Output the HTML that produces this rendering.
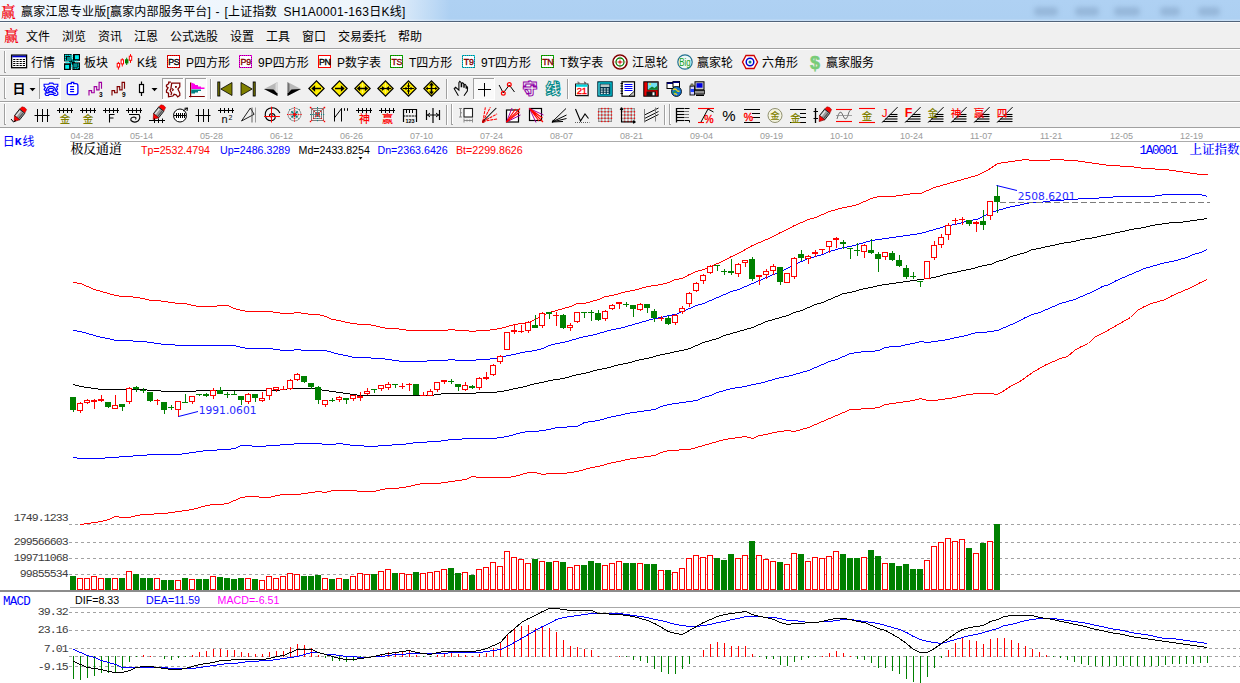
<!DOCTYPE html>
<html lang="zh-CN"><head><meta charset="utf-8"><title>赢家江恩专业版</title>
<style>
html,body{margin:0;padding:0;background:#fff}
#w{position:relative;width:1240px;height:683px;overflow:hidden;background:#fff;font-family:"Liberation Sans","Noto Sans CJK SC",sans-serif}
.t{position:absolute;white-space:nowrap;line-height:1;color:#000}
#title{position:absolute;left:0;top:0;width:1240px;height:21px;background:linear-gradient(#afd1f3,#add0f2 85%,#add0f2 90%,#cfe3f7)}
#tglow{position:absolute;left:0;top:0;width:450px;height:21px;background:linear-gradient(90deg,rgba(255,255,255,.82),rgba(255,255,255,.8) 80%,rgba(255,255,255,.5) 90%,rgba(255,255,255,0))}
.blob{position:absolute;top:7px;height:9px;background:#7f9fc2;opacity:.5;filter:blur(2.5px);border-radius:4px}
#tline{position:absolute;left:0;top:21px;width:1240px;height:1px;background:#51637a}
#menubg{position:absolute;left:0;top:22px;width:1240px;height:106px;background:#f0f0f0;box-shadow:inset 0 1px 0 #fbfbfb}
.sep{position:absolute;left:0;width:1240px;height:1px;background:#a0a0a0;box-shadow:0 1px 0 #fff}
.ui{font-size:12px;height:16px;line-height:16px}
.ying{font-family:"Liberation Serif","Noto Serif CJK SC",serif;font-weight:600;color:#f4000c;font-size:14.5px;line-height:16px}
.date{font-size:9px;color:#9a9a9a;font-family:"Liberation Sans",sans-serif;line-height:11px}
.sim{font-family:"Liberation Serif","Noto Serif CJK SC",serif;font-size:12px;line-height:14px;font-weight:500}
.sim2{font-family:"Liberation Sans","Noto Sans CJK SC",sans-serif;font-size:12px;line-height:14px}
.lm{font-family:"Liberation Mono",monospace;font-size:10px;font-weight:400}
.ar{font-family:"Liberation Sans",sans-serif;font-size:10.67px;line-height:12px}
.ann{font-family:"DejaVu Sans","Liberation Sans",sans-serif;font-size:10.7px;line-height:12px;color:#2a2aff}
.mono{font-family:"Liberation Mono",monospace;font-size:11.5px;letter-spacing:-0.9px;line-height:12px;color:#3c3c3c}
svg{position:absolute;left:0;top:0}
</style></head><body><div id="w">
<div id="title"></div><div id="tglow"></div>
<div class="blob" style="left:1034px;width:24px"></div>
<div class="blob" style="left:1075px;width:24px"></div>
<div class="blob" style="left:1114px;width:26px"></div>
<div class="blob" style="left:1160px;width:20px"></div>
<div class="blob" style="left:1198px;width:22px"></div>
<div id="tline"></div>
<div id="menubg"></div><div class="sep" style="top:48px"></div><div class="sep" style="top:75px"></div><div class="sep" style="top:101px"></div><div class="sep" style="top:127px"></div>
<div class="t ying" style="left:1px;top:3.5px;">赢</div>
<div class="t ui" style="left:21px;top:3.5px;letter-spacing:0.2px">赢家江恩专业版[赢家内部服务平台]</div>
<div class="t ui" style="left:215.5px;top:3.5px;">-</div>
<div class="t ui" style="left:224.5px;top:3.5px;letter-spacing:0.2px">[上证指数</div>
<div class="t ui" style="left:283.5px;top:3.5px;letter-spacing:0.3px">SH1A0001-163日K线]</div>
<div class="t ying" style="left:4px;top:27.5px;">赢</div>
<div class="t ui" style="left:26px;top:28.5px;">文件</div>
<div class="t ui" style="left:62px;top:28.5px;">浏览</div>
<div class="t ui" style="left:98px;top:28.5px;">资讯</div>
<div class="t ui" style="left:134px;top:28.5px;">江恩</div>
<div class="t ui" style="left:170px;top:28.5px;">公式选股</div>
<div class="t ui" style="left:230px;top:28.5px;">设置</div>
<div class="t ui" style="left:266px;top:28.5px;">工具</div>
<div class="t ui" style="left:302px;top:28.5px;">窗口</div>
<div class="t ui" style="left:338px;top:28.5px;">交易委托</div>
<div class="t ui" style="left:398px;top:28.5px;">帮助</div>
<div class="t ui" style="left:31px;top:55px;">行情</div>
<div class="t ui" style="left:84px;top:55px;">板块</div>
<div class="t ui" style="left:137px;top:55px;">K线</div>
<div class="t ui" style="left:186px;top:55px;">P四方形</div>
<div class="t ui" style="left:258px;top:55px;">9P四方形</div>
<div class="t ui" style="left:337px;top:55px;">P数字表</div>
<div class="t ui" style="left:409px;top:55px;">T四方形</div>
<div class="t ui" style="left:481px;top:55px;">9T四方形</div>
<div class="t ui" style="left:560px;top:55px;">T数字表</div>
<div class="t ui" style="left:632px;top:55px;">江恩轮</div>
<div class="t ui" style="left:697px;top:55px;">赢家轮</div>
<div class="t ui" style="left:762px;top:55px;">六角形</div>
<div class="t ui" style="left:826px;top:55px;">赢家服务</div>
<div class="t date" style="left:70.5px;top:131px;">04-28</div>
<div class="t date" style="left:130px;top:131px;">05-14</div>
<div class="t date" style="left:200px;top:131px;">05-28</div>
<div class="t date" style="left:270px;top:131px;">06-12</div>
<div class="t date" style="left:340px;top:131px;">06-26</div>
<div class="t date" style="left:410px;top:131px;">07-10</div>
<div class="t date" style="left:480px;top:131px;">07-24</div>
<div class="t date" style="left:550px;top:131px;">08-07</div>
<div class="t date" style="left:620px;top:131px;">08-21</div>
<div class="t date" style="left:690px;top:131px;">09-04</div>
<div class="t date" style="left:760px;top:131px;">09-19</div>
<div class="t date" style="left:830px;top:131px;">10-10</div>
<div class="t date" style="left:900px;top:131px;">10-24</div>
<div class="t date" style="left:970px;top:131px;">11-07</div>
<div class="t date" style="left:1040px;top:131px;">11-21</div>
<div class="t date" style="left:1110px;top:131px;">12-05</div>
<div class="t date" style="left:1180px;top:131px;">12-19</div>
<div class="t sim2" style="left:2.7px;top:135px;color:#00f">日</div>
<div class="t sim2" style="left:14.8px;top:135px;color:#00f;font-family:'Liberation Mono',monospace;font-size:11.5px;font-weight:700">K</div>
<div class="t sim2" style="left:22.6px;top:135px;color:#00f">线</div>
<div class="t sim" style="left:70.5px;top:142.3px;font-size:13px;letter-spacing:-0.2px">极反通道</div>
<div class="t ar" style="left:141px;top:143.6px;color:#f00">Tp=2532.4794</div>
<div class="t ar" style="left:220px;top:143.6px;color:#00f">Up=2486.3289</div>
<div class="t ar" style="left:298.5px;top:143.6px;">Md=2433.8254</div>
<div class="t ar" style="left:377.5px;top:143.6px;color:#00f">Dn=2363.6426</div>
<div class="t ar" style="left:456px;top:143.6px;color:#f00">Bt=2299.8626</div>
<div class="t sim" style="left:1139.5px;top:142.5px;color:#00f;font-size:12.5px"><span class="lm" style="font-size:12.5px;letter-spacing:-1.25px">1A0001</span></div>
<div class="t sim" style="left:1189.5px;top:142.5px;color:#00f;font-size:12.5px">上证指数</div>
<div class="t ann" style="left:1017.7px;top:191px;">2508.6201</div>
<div class="t ann" style="left:198.7px;top:405px;">1991.0601</div>
<div class="t mono" style="right:1172.3px;top:512px">1749.1233</div>
<div class="t mono" style="right:1172.3px;top:536px">299566603</div>
<div class="t mono" style="right:1172.3px;top:552px">199711068</div>
<div class="t mono" style="right:1172.3px;top:568px">99855534</div>
<div class="t mono" style="right:1172.3px;top:606px">39.32</div>
<div class="t mono" style="right:1172.3px;top:624px">23.16</div>
<div class="t mono" style="right:1172.3px;top:642.5px">7.01</div>
<div class="t mono" style="right:1172.3px;top:660.5px">-9.15</div>
<div class="t sim" style="left:3px;top:593.5px;color:#00f"><span class="lm" style="font-size:12.5px;letter-spacing:-0.75px">MACD</span></div>
<div class="t ar" style="left:75px;top:593.5px;">DIF=8.33</div>
<div class="t ar" style="left:146px;top:593.5px;color:#00f">DEA=11.59</div>
<div class="t ar" style="left:217.5px;top:593.5px;color:#f0f">MACD=-6.51</div>
<svg width="1240" height="683" viewBox="0 0 1240 683">
<line x1="69" y1="524.5" x2="1240" y2="524.5" stroke="#a2a2a2" stroke-dasharray="3 3"/>
<line x1="69" y1="542.5" x2="1240" y2="542.5" stroke="#a2a2a2" stroke-dasharray="3 3"/>
<line x1="69" y1="558.5" x2="1240" y2="558.5" stroke="#a2a2a2" stroke-dasharray="3 3"/>
<line x1="69" y1="574.5" x2="1240" y2="574.5" stroke="#a2a2a2" stroke-dasharray="3 3"/>
<line x1="69" y1="612.5" x2="1240" y2="612.5" stroke="#a2a2a2" stroke-dasharray="3 3"/>
<line x1="69" y1="630.5" x2="1240" y2="630.5" stroke="#a2a2a2" stroke-dasharray="3 3"/>
<line x1="69" y1="648.5" x2="1240" y2="648.5" stroke="#a2a2a2" stroke-dasharray="3 3"/>
<line x1="69" y1="656.5" x2="1240" y2="656.5" stroke="#a2a2a2" stroke-dasharray="3 3"/>
<line x1="69" y1="666.5" x2="1240" y2="666.5" stroke="#a2a2a2" stroke-dasharray="3 3"/>
<rect x="70" y="141" width="1170" height="1" fill="#ababab"/>
<rect x="0" y="590" width="1240" height="2" fill="#8c8c8c"/>
<rect x="70" y="607" width="1170" height="1" fill="#a8a8a8"/>
<g shape-rendering="crispEdges">
<polyline points="73.5,282.5 80.5,283.5 87.5,286.5 94.5,289.5 101.5,291.5 108.5,293.5 115.5,295.5 122.5,296.5 129.5,296.5 136.5,297.5 143.5,298.5 150.5,300.5 157.5,300.5 164.5,301.5 171.5,302.5 178.5,303.5 185.5,303.5 192.5,305.5 199.5,306.5 206.5,306.5 213.5,306.5 220.5,305.5 227.5,305.5 234.5,308.5 241.5,310.5 248.5,311.5 255.5,311.5 262.5,311.5 269.5,311.5 276.5,312.5 283.5,313.5 290.5,313.5 297.5,312.5 304.5,313.5 311.5,314.5 318.5,314.5 325.5,316.5 332.5,319.5 339.5,320.5 346.5,322.5 353.5,323.5 360.5,324.5 367.5,324.5 374.5,325.5 381.5,327.5 388.5,328.5 395.5,328.5 402.5,329.5 409.5,330.5 416.5,330.5 423.5,330.5 430.5,330.5 437.5,330.5 444.5,330.5 451.5,329.5 458.5,330.5 465.5,330.5 472.5,331.5 479.5,330.5 486.5,330.5 493.5,329.5 500.5,328.5 507.5,326.5 514.5,324.5 521.5,323.5 528.5,322.5 535.5,319.5 542.5,315.5 549.5,312.5 556.5,310.5 563.5,308.5 570.5,306.5 577.5,303.5 584.5,303.5 591.5,301.5 598.5,299.5 605.5,296.5 612.5,295.5 619.5,293.5 626.5,291.5 633.5,290.5 640.5,288.5 647.5,286.5 654.5,285.5 661.5,284.5 668.5,282.5 675.5,279.5 682.5,278.5 689.5,274.5 696.5,271.5 703.5,269.5 710.5,266.5 717.5,263.5 724.5,260.5 731.5,256.5 738.5,253.5 745.5,249.5 752.5,245.5 759.5,242.5 766.5,239.5 773.5,236.5 780.5,232.5 787.5,229.5 794.5,225.5 801.5,222.5 808.5,219.5 815.5,217.5 822.5,214.5 829.5,211.5 836.5,209.5 843.5,207.5 850.5,206.5 857.5,204.5 864.5,201.5 871.5,198.5 878.5,196.5 885.5,196.5 892.5,196.5 899.5,195.5 906.5,194.5 913.5,193.5 920.5,193.5 927.5,190.5 934.5,187.5 941.5,185.5 948.5,183.5 955.5,181.5 962.5,179.5 969.5,177.5 976.5,175.5 983.5,172.5 990.5,168.5 997.5,163.5 1004.5,162.5 1011.5,161.5 1018.5,160.5 1025.5,159.5 1032.5,160.5 1039.5,160.5 1046.5,160.5 1053.5,159.5 1060.5,159.5 1067.5,160.5 1074.5,160.5 1081.5,161.5 1088.5,162.5 1095.5,163.5 1102.5,164.5 1109.5,165.5 1116.5,165.5 1123.5,166.5 1130.5,166.5 1137.5,167.5 1144.5,168.5 1151.5,168.5 1158.5,169.5 1165.5,169.5 1172.5,170.5 1179.5,171.5 1186.5,172.5 1193.5,173.5 1200.5,174.5 1207.5,174.5" fill="none" stroke="#ff0000" stroke-width="1"/>
<polyline points="73.5,330.5 80.5,331.5 87.5,333.5 94.5,335.5 101.5,337.5 108.5,338.5 115.5,340.5 122.5,340.5 129.5,340.5 136.5,341.5 143.5,341.5 150.5,342.5 157.5,343.5 164.5,344.5 171.5,344.5 178.5,345.5 185.5,345.5 192.5,345.5 199.5,345.5 206.5,345.5 213.5,345.5 220.5,345.5 227.5,345.5 234.5,345.5 241.5,347.5 248.5,348.5 255.5,348.5 262.5,348.5 269.5,348.5 276.5,349.5 283.5,350.5 290.5,350.5 297.5,349.5 304.5,350.5 311.5,350.5 318.5,350.5 325.5,350.5 332.5,352.5 339.5,354.5 346.5,355.5 353.5,357.5 360.5,357.5 367.5,357.5 374.5,358.5 381.5,358.5 388.5,359.5 395.5,360.5 402.5,361.5 409.5,361.5 416.5,361.5 423.5,361.5 430.5,360.5 437.5,360.5 444.5,360.5 451.5,359.5 458.5,360.5 465.5,360.5 472.5,360.5 479.5,359.5 486.5,359.5 493.5,358.5 500.5,357.5 507.5,355.5 514.5,354.5 521.5,352.5 528.5,351.5 535.5,350.5 542.5,348.5 549.5,345.5 556.5,343.5 563.5,342.5 570.5,340.5 577.5,338.5 584.5,336.5 591.5,335.5 598.5,333.5 605.5,331.5 612.5,329.5 619.5,328.5 626.5,326.5 633.5,324.5 640.5,322.5 647.5,320.5 654.5,318.5 661.5,317.5 668.5,315.5 675.5,314.5 682.5,311.5 689.5,308.5 696.5,305.5 703.5,303.5 710.5,300.5 717.5,297.5 724.5,294.5 731.5,291.5 738.5,289.5 745.5,286.5 752.5,283.5 759.5,280.5 766.5,277.5 773.5,274.5 780.5,271.5 787.5,268.5 794.5,264.5 801.5,261.5 808.5,258.5 815.5,256.5 822.5,254.5 829.5,251.5 836.5,249.5 843.5,247.5 850.5,246.5 857.5,244.5 864.5,242.5 871.5,240.5 878.5,239.5 885.5,238.5 892.5,237.5 899.5,236.5 906.5,235.5 913.5,234.5 920.5,233.5 927.5,231.5 934.5,229.5 941.5,227.5 948.5,225.5 955.5,224.5 962.5,222.5 969.5,220.5 976.5,219.5 983.5,216.5 990.5,212.5 997.5,210.5 1004.5,208.5 1011.5,206.5 1018.5,205.5 1025.5,203.5 1032.5,202.5 1039.5,202.5 1046.5,201.5 1053.5,200.5 1060.5,200.5 1067.5,199.5 1074.5,199.5 1081.5,198.5 1088.5,198.5 1095.5,198.5 1102.5,197.5 1109.5,197.5 1116.5,196.5 1123.5,196.5 1130.5,196.5 1137.5,196.5 1144.5,196.5 1151.5,196.5 1158.5,195.5 1165.5,194.5 1172.5,194.5 1179.5,194.5 1186.5,194.5 1193.5,194.5 1200.5,194.5 1207.5,196.5" fill="none" stroke="#0000ff" stroke-width="1"/>
<polyline points="73.5,384.5 80.5,386.5 87.5,387.5 94.5,388.5 101.5,389.5 108.5,389.5 115.5,389.5 122.5,389.5 129.5,389.5 136.5,389.5 143.5,389.5 150.5,390.5 157.5,390.5 164.5,391.5 171.5,391.5 178.5,391.5 185.5,391.5 192.5,391.5 199.5,390.5 206.5,390.5 213.5,390.5 220.5,390.5 227.5,390.5 234.5,390.5 241.5,390.5 248.5,390.5 255.5,390.5 262.5,390.5 269.5,390.5 276.5,390.5 283.5,389.5 290.5,388.5 297.5,388.5 304.5,388.5 311.5,388.5 318.5,389.5 325.5,390.5 332.5,391.5 339.5,392.5 346.5,393.5 353.5,394.5 360.5,395.5 367.5,395.5 374.5,395.5 381.5,395.5 388.5,395.5 395.5,395.5 402.5,395.5 409.5,395.5 416.5,395.5 423.5,395.5 430.5,395.5 437.5,394.5 444.5,393.5 451.5,393.5 458.5,393.5 465.5,393.5 472.5,393.5 479.5,392.5 486.5,392.5 493.5,392.5 500.5,391.5 507.5,390.5 514.5,388.5 521.5,387.5 528.5,385.5 535.5,383.5 542.5,382.5 549.5,380.5 556.5,379.5 563.5,378.5 570.5,376.5 577.5,374.5 584.5,373.5 591.5,371.5 598.5,369.5 605.5,368.5 612.5,366.5 619.5,364.5 626.5,363.5 633.5,361.5 640.5,359.5 647.5,358.5 654.5,356.5 661.5,354.5 668.5,353.5 675.5,351.5 682.5,350.5 689.5,348.5 696.5,345.5 703.5,342.5 710.5,340.5 717.5,338.5 724.5,335.5 731.5,333.5 738.5,331.5 745.5,329.5 752.5,327.5 759.5,324.5 766.5,321.5 773.5,319.5 780.5,317.5 787.5,315.5 794.5,312.5 801.5,310.5 808.5,307.5 815.5,304.5 822.5,302.5 829.5,299.5 836.5,296.5 843.5,293.5 850.5,292.5 857.5,290.5 864.5,288.5 871.5,287.5 878.5,285.5 885.5,284.5 892.5,283.5 899.5,282.5 906.5,281.5 913.5,280.5 920.5,279.5 927.5,278.5 934.5,277.5 941.5,275.5 948.5,273.5 955.5,272.5 962.5,270.5 969.5,269.5 976.5,267.5 983.5,265.5 990.5,264.5 997.5,261.5 1004.5,259.5 1011.5,256.5 1018.5,254.5 1025.5,252.5 1032.5,249.5 1039.5,248.5 1046.5,246.5 1053.5,245.5 1060.5,243.5 1067.5,242.5 1074.5,241.5 1081.5,239.5 1088.5,238.5 1095.5,237.5 1102.5,235.5 1109.5,234.5 1116.5,232.5 1123.5,231.5 1130.5,229.5 1137.5,228.5 1144.5,227.5 1151.5,225.5 1158.5,224.5 1165.5,223.5 1172.5,222.5 1179.5,222.5 1186.5,221.5 1193.5,220.5 1200.5,219.5 1207.5,218.5" fill="none" stroke="#000000" stroke-width="1"/>
<polyline points="73.5,457.5 80.5,458.5 87.5,458.5 94.5,458.5 101.5,458.5 108.5,457.5 115.5,457.5 122.5,456.5 129.5,456.5 136.5,455.5 143.5,455.5 150.5,454.5 157.5,454.5 164.5,454.5 171.5,454.5 178.5,454.5 185.5,453.5 192.5,452.5 199.5,451.5 206.5,450.5 213.5,450.5 220.5,449.5 227.5,449.5 234.5,448.5 241.5,445.5 248.5,445.5 255.5,446.5 262.5,446.5 269.5,445.5 276.5,445.5 283.5,444.5 290.5,444.5 297.5,443.5 304.5,443.5 311.5,443.5 318.5,443.5 325.5,444.5 332.5,444.5 339.5,443.5 346.5,444.5 353.5,445.5 360.5,445.5 367.5,446.5 374.5,446.5 381.5,445.5 388.5,445.5 395.5,444.5 402.5,444.5 409.5,443.5 416.5,442.5 423.5,442.5 430.5,441.5 437.5,441.5 444.5,440.5 451.5,439.5 458.5,439.5 465.5,438.5 472.5,438.5 479.5,438.5 486.5,438.5 493.5,438.5 500.5,437.5 507.5,436.5 514.5,434.5 521.5,432.5 528.5,431.5 535.5,431.5 542.5,430.5 549.5,429.5 556.5,427.5 563.5,427.5 570.5,426.5 577.5,426.5 584.5,422.5 591.5,421.5 598.5,420.5 605.5,418.5 612.5,416.5 619.5,415.5 626.5,413.5 633.5,412.5 640.5,411.5 647.5,410.5 654.5,409.5 661.5,406.5 668.5,404.5 675.5,403.5 682.5,402.5 689.5,401.5 696.5,400.5 703.5,397.5 710.5,395.5 717.5,392.5 724.5,390.5 731.5,388.5 738.5,387.5 745.5,386.5 752.5,384.5 759.5,383.5 766.5,381.5 773.5,379.5 780.5,377.5 787.5,376.5 794.5,374.5 801.5,372.5 808.5,370.5 815.5,367.5 822.5,364.5 829.5,361.5 836.5,359.5 843.5,356.5 850.5,353.5 857.5,352.5 864.5,351.5 871.5,351.5 878.5,350.5 885.5,347.5 892.5,346.5 899.5,346.5 906.5,344.5 913.5,343.5 920.5,341.5 927.5,342.5 934.5,341.5 941.5,340.5 948.5,339.5 955.5,337.5 962.5,336.5 969.5,334.5 976.5,332.5 983.5,332.5 990.5,331.5 997.5,330.5 1004.5,327.5 1011.5,324.5 1018.5,321.5 1025.5,317.5 1032.5,314.5 1039.5,312.5 1046.5,309.5 1053.5,306.5 1060.5,303.5 1067.5,301.5 1074.5,299.5 1081.5,296.5 1088.5,293.5 1095.5,290.5 1102.5,286.5 1109.5,284.5 1116.5,280.5 1123.5,277.5 1130.5,274.5 1137.5,271.5 1144.5,268.5 1151.5,266.5 1158.5,264.5 1165.5,262.5 1172.5,261.5 1179.5,259.5 1186.5,257.5 1193.5,254.5 1200.5,252.5 1207.5,249.5" fill="none" stroke="#0000ff" stroke-width="1"/>
<polyline points="80.5,524.5 87.5,523.5 94.5,522.5 101.5,521.5 108.5,519.5 115.5,516.5 122.5,517.5 129.5,517.5 136.5,515.5 143.5,514.5 150.5,514.5 157.5,513.5 164.5,513.5 171.5,512.5 178.5,511.5 185.5,510.5 192.5,509.5 199.5,507.5 206.5,505.5 213.5,504.5 220.5,504.5 227.5,503.5 234.5,500.5 241.5,497.5 248.5,496.5 255.5,496.5 262.5,497.5 269.5,497.5 276.5,495.5 283.5,494.5 290.5,494.5 297.5,494.5 304.5,493.5 311.5,492.5 318.5,491.5 325.5,492.5 332.5,490.5 339.5,490.5 346.5,490.5 353.5,490.5 360.5,491.5 367.5,491.5 374.5,491.5 381.5,489.5 388.5,488.5 395.5,488.5 402.5,487.5 409.5,486.5 416.5,484.5 423.5,483.5 430.5,483.5 437.5,483.5 444.5,482.5 451.5,481.5 458.5,480.5 465.5,479.5 472.5,476.5 479.5,477.5 486.5,477.5 493.5,477.5 500.5,477.5 507.5,477.5 514.5,476.5 521.5,474.5 528.5,472.5 535.5,472.5 542.5,474.5 549.5,473.5 556.5,473.5 563.5,473.5 570.5,472.5 577.5,471.5 584.5,469.5 591.5,467.5 598.5,466.5 605.5,464.5 612.5,462.5 619.5,461.5 626.5,459.5 633.5,458.5 640.5,457.5 647.5,456.5 654.5,455.5 661.5,452.5 668.5,450.5 675.5,450.5 682.5,449.5 689.5,449.5 696.5,447.5 703.5,445.5 710.5,443.5 717.5,441.5 724.5,439.5 731.5,438.5 738.5,437.5 745.5,436.5 752.5,438.5 759.5,435.5 766.5,434.5 773.5,432.5 780.5,431.5 787.5,430.5 794.5,431.5 801.5,429.5 808.5,427.5 815.5,424.5 822.5,421.5 829.5,418.5 836.5,415.5 843.5,412.5 850.5,409.5 857.5,409.5 864.5,408.5 871.5,408.5 878.5,407.5 885.5,404.5 892.5,403.5 899.5,402.5 906.5,401.5 913.5,400.5 920.5,398.5 927.5,400.5 934.5,400.5 941.5,399.5 948.5,398.5 955.5,397.5 962.5,395.5 969.5,394.5 976.5,393.5 983.5,393.5 990.5,393.5 997.5,394.5 1004.5,390.5 1011.5,385.5 1018.5,382.5 1025.5,377.5 1032.5,372.5 1039.5,368.5 1046.5,364.5 1053.5,361.5 1060.5,358.5 1067.5,356.5 1074.5,350.5 1081.5,346.5 1088.5,343.5 1095.5,336.5 1102.5,333.5 1109.5,329.5 1116.5,325.5 1123.5,321.5 1130.5,317.5 1137.5,310.5 1144.5,306.5 1151.5,303.5 1158.5,301.5 1165.5,299.5 1172.5,295.5 1179.5,292.5 1186.5,289.5 1193.5,286.5 1200.5,282.5 1207.5,279.5" fill="none" stroke="#ff0000" stroke-width="1"/>
<rect x="73" y="410" width="1" height="2" fill="#008000"/>
<rect x="70" y="397" width="6" height="13" fill="#008000"/>
<rect x="80" y="402" width="1" height="1" fill="#ff0000"/>
<rect x="80" y="411" width="1" height="2" fill="#ff0000"/>
<rect x="77.5" y="403.5" width="5" height="7" fill="#fff" stroke="#ff0000"/>
<rect x="87" y="399" width="1" height="1" fill="#ff0000"/>
<rect x="87" y="403" width="1" height="1" fill="#ff0000"/>
<rect x="84.5" y="400.5" width="5" height="2" fill="#fff" stroke="#ff0000"/>
<rect x="94" y="399" width="1" height="1" fill="#ff0000"/>
<rect x="94" y="402" width="1" height="7" fill="#ff0000"/>
<rect x="91" y="400" width="6" height="2" fill="#ff0000"/>
<rect x="101" y="395" width="1" height="4" fill="#ff0000"/>
<rect x="101" y="401" width="1" height="1" fill="#ff0000"/>
<rect x="98" y="399" width="6" height="2" fill="#ff0000"/>
<rect x="108" y="407" width="1" height="1" fill="#008000"/>
<rect x="105" y="402" width="6" height="5" fill="#008000"/>
<rect x="115" y="395" width="1" height="10" fill="#ff0000"/>
<rect x="112.5" y="405.5" width="5" height="3" fill="#fff" stroke="#ff0000"/>
<rect x="122" y="407" width="1" height="4" fill="#008000"/>
<rect x="119" y="404" width="6" height="3" fill="#008000"/>
<rect x="129" y="387" width="1" height="1" fill="#ff0000"/>
<rect x="129" y="402" width="1" height="2" fill="#ff0000"/>
<rect x="126.5" y="388.5" width="5" height="13" fill="#fff" stroke="#ff0000"/>
<rect x="136" y="386" width="1" height="1" fill="#008000"/>
<rect x="136" y="389" width="1" height="3" fill="#008000"/>
<rect x="133" y="387" width="6" height="2" fill="#008000"/>
<rect x="143" y="388" width="1" height="2" fill="#008000"/>
<rect x="143" y="391" width="1" height="2" fill="#008000"/>
<rect x="140" y="390" width="6" height="1" fill="#008000"/>
<rect x="150" y="401" width="1" height="1" fill="#008000"/>
<rect x="147" y="392" width="6" height="9" fill="#008000"/>
<rect x="157" y="399" width="1" height="1" fill="#ff0000"/>
<rect x="157" y="401" width="1" height="4" fill="#ff0000"/>
<rect x="154" y="400" width="6" height="1" fill="#ff0000"/>
<rect x="164" y="410" width="1" height="4" fill="#008000"/>
<rect x="161" y="402" width="6" height="8" fill="#008000"/>
<rect x="171" y="405" width="1" height="2" fill="#008000"/>
<rect x="171" y="408" width="1" height="2" fill="#008000"/>
<rect x="168" y="407" width="6" height="1" fill="#008000"/>
<rect x="178" y="410" width="1" height="7" fill="#ff0000"/>
<rect x="175.5" y="401.5" width="5" height="8" fill="#fff" stroke="#ff0000"/>
<rect x="185" y="394" width="1" height="8" fill="#008000"/>
<rect x="182" y="402" width="6" height="1" fill="#008000"/>
<rect x="192" y="402" width="1" height="2" fill="#ff0000"/>
<rect x="189.5" y="396.5" width="5" height="5" fill="#fff" stroke="#ff0000"/>
<rect x="199" y="395" width="1" height="1" fill="#008000"/>
<rect x="196" y="394" width="6" height="1" fill="#008000"/>
<rect x="206" y="393" width="1" height="1" fill="#008000"/>
<rect x="206" y="396" width="1" height="1" fill="#008000"/>
<rect x="203" y="394" width="6" height="2" fill="#008000"/>
<rect x="213" y="388" width="1" height="2" fill="#ff0000"/>
<rect x="213" y="396" width="1" height="3" fill="#ff0000"/>
<rect x="210.5" y="390.5" width="5" height="5" fill="#fff" stroke="#ff0000"/>
<rect x="220" y="387" width="1" height="3" fill="#008000"/>
<rect x="217" y="390" width="6" height="4" fill="#008000"/>
<rect x="227" y="392" width="1" height="2" fill="#008000"/>
<rect x="227" y="395" width="1" height="3" fill="#008000"/>
<rect x="224" y="394" width="6" height="1" fill="#008000"/>
<rect x="234" y="391" width="1" height="3" fill="#008000"/>
<rect x="231" y="394" width="6" height="1" fill="#008000"/>
<rect x="241" y="400" width="1" height="5" fill="#008000"/>
<rect x="238" y="396" width="6" height="4" fill="#008000"/>
<rect x="248" y="393" width="1" height="1" fill="#ff0000"/>
<rect x="248" y="402" width="1" height="2" fill="#ff0000"/>
<rect x="245.5" y="394.5" width="5" height="7" fill="#fff" stroke="#ff0000"/>
<rect x="255" y="398" width="1" height="4" fill="#008000"/>
<rect x="252" y="394" width="6" height="4" fill="#008000"/>
<rect x="262" y="392" width="1" height="6" fill="#ff0000"/>
<rect x="262" y="401" width="1" height="1" fill="#ff0000"/>
<rect x="259.5" y="398.5" width="5" height="2" fill="#fff" stroke="#ff0000"/>
<rect x="269" y="396" width="1" height="4" fill="#ff0000"/>
<rect x="266.5" y="388.5" width="5" height="7" fill="#fff" stroke="#ff0000"/>
<rect x="276" y="390" width="1" height="2" fill="#ff0000"/>
<rect x="273.5" y="387.5" width="5" height="2" fill="#fff" stroke="#ff0000"/>
<rect x="283" y="386" width="1" height="3" fill="#ff0000"/>
<rect x="280" y="389" width="6" height="1" fill="#ff0000"/>
<rect x="290" y="379" width="1" height="1" fill="#ff0000"/>
<rect x="290" y="389" width="1" height="1" fill="#ff0000"/>
<rect x="287.5" y="380.5" width="5" height="8" fill="#fff" stroke="#ff0000"/>
<rect x="297" y="373" width="1" height="1" fill="#ff0000"/>
<rect x="297" y="380" width="1" height="1" fill="#ff0000"/>
<rect x="294.5" y="374.5" width="5" height="5" fill="#fff" stroke="#ff0000"/>
<rect x="304" y="382" width="1" height="1" fill="#008000"/>
<rect x="301" y="376" width="6" height="6" fill="#008000"/>
<rect x="311" y="387" width="1" height="2" fill="#008000"/>
<rect x="308" y="383" width="6" height="4" fill="#008000"/>
<rect x="318" y="386" width="1" height="1" fill="#008000"/>
<rect x="318" y="400" width="1" height="4" fill="#008000"/>
<rect x="315" y="387" width="6" height="13" fill="#008000"/>
<rect x="325" y="405" width="1" height="2" fill="#ff0000"/>
<rect x="322.5" y="400.5" width="5" height="4" fill="#fff" stroke="#ff0000"/>
<rect x="332" y="398" width="1" height="2" fill="#008000"/>
<rect x="332" y="401" width="1" height="1" fill="#008000"/>
<rect x="329" y="400" width="6" height="1" fill="#008000"/>
<rect x="339" y="396" width="1" height="1" fill="#ff0000"/>
<rect x="339" y="400" width="1" height="2" fill="#ff0000"/>
<rect x="336.5" y="397.5" width="5" height="2" fill="#fff" stroke="#ff0000"/>
<rect x="346" y="400" width="1" height="4" fill="#008000"/>
<rect x="343" y="398" width="6" height="2" fill="#008000"/>
<rect x="353" y="399" width="1" height="2" fill="#ff0000"/>
<rect x="350.5" y="395.5" width="5" height="3" fill="#fff" stroke="#ff0000"/>
<rect x="360" y="392" width="1" height="4" fill="#ff0000"/>
<rect x="360" y="398" width="1" height="3" fill="#ff0000"/>
<rect x="357" y="396" width="6" height="2" fill="#ff0000"/>
<rect x="367" y="388" width="1" height="3" fill="#ff0000"/>
<rect x="367" y="394" width="1" height="1" fill="#ff0000"/>
<rect x="364.5" y="391.5" width="5" height="2" fill="#fff" stroke="#ff0000"/>
<rect x="374" y="390" width="1" height="3" fill="#008000"/>
<rect x="371" y="389" width="6" height="1" fill="#008000"/>
<rect x="381" y="389" width="1" height="2" fill="#ff0000"/>
<rect x="378.5" y="385.5" width="5" height="3" fill="#fff" stroke="#ff0000"/>
<rect x="388" y="382" width="1" height="2" fill="#ff0000"/>
<rect x="388" y="388" width="1" height="2" fill="#ff0000"/>
<rect x="385.5" y="384.5" width="5" height="3" fill="#fff" stroke="#ff0000"/>
<rect x="395" y="385" width="1" height="3" fill="#008000"/>
<rect x="392" y="384" width="6" height="1" fill="#008000"/>
<rect x="402" y="383" width="1" height="3" fill="#ff0000"/>
<rect x="402" y="387" width="1" height="2" fill="#ff0000"/>
<rect x="399" y="386" width="6" height="1" fill="#ff0000"/>
<rect x="409" y="383" width="1" height="1" fill="#ff0000"/>
<rect x="409" y="385" width="1" height="6" fill="#ff0000"/>
<rect x="406" y="384" width="6" height="1" fill="#ff0000"/>
<rect x="413" y="384" width="6" height="11" fill="#008000"/>
<rect x="423" y="392" width="1" height="3" fill="#ff0000"/>
<rect x="420" y="395" width="6" height="1" fill="#ff0000"/>
<rect x="430" y="389" width="1" height="2" fill="#ff0000"/>
<rect x="427.5" y="391.5" width="5" height="4" fill="#fff" stroke="#ff0000"/>
<rect x="437" y="390" width="1" height="2" fill="#ff0000"/>
<rect x="434.5" y="382.5" width="5" height="7" fill="#fff" stroke="#ff0000"/>
<rect x="444" y="382" width="1" height="2" fill="#ff0000"/>
<rect x="441" y="380" width="6" height="2" fill="#ff0000"/>
<rect x="451" y="379" width="1" height="2" fill="#008000"/>
<rect x="451" y="382" width="1" height="2" fill="#008000"/>
<rect x="448" y="381" width="6" height="1" fill="#008000"/>
<rect x="458" y="387" width="1" height="4" fill="#008000"/>
<rect x="455" y="384" width="6" height="3" fill="#008000"/>
<rect x="465" y="382" width="1" height="3" fill="#ff0000"/>
<rect x="465" y="390" width="1" height="1" fill="#ff0000"/>
<rect x="462.5" y="385.5" width="5" height="4" fill="#fff" stroke="#ff0000"/>
<rect x="472" y="385" width="1" height="1" fill="#008000"/>
<rect x="472" y="388" width="1" height="1" fill="#008000"/>
<rect x="469" y="386" width="6" height="2" fill="#008000"/>
<rect x="479" y="377" width="1" height="1" fill="#ff0000"/>
<rect x="479" y="388" width="1" height="2" fill="#ff0000"/>
<rect x="476.5" y="378.5" width="5" height="9" fill="#fff" stroke="#ff0000"/>
<rect x="486" y="372" width="1" height="5" fill="#ff0000"/>
<rect x="486" y="379" width="1" height="1" fill="#ff0000"/>
<rect x="483" y="377" width="6" height="2" fill="#ff0000"/>
<rect x="493" y="364" width="1" height="1" fill="#ff0000"/>
<rect x="493" y="375" width="1" height="1" fill="#ff0000"/>
<rect x="490.5" y="365.5" width="5" height="9" fill="#fff" stroke="#ff0000"/>
<rect x="500" y="355" width="1" height="1" fill="#ff0000"/>
<rect x="500" y="362" width="1" height="2" fill="#ff0000"/>
<rect x="497.5" y="356.5" width="5" height="5" fill="#fff" stroke="#ff0000"/>
<rect x="504.5" y="332.5" width="5" height="17" fill="#fff" stroke="#ff0000"/>
<rect x="514" y="325" width="1" height="5" fill="#ff0000"/>
<rect x="514" y="332" width="1" height="2" fill="#ff0000"/>
<rect x="511" y="330" width="6" height="2" fill="#ff0000"/>
<rect x="521" y="325" width="1" height="6" fill="#ff0000"/>
<rect x="521" y="332" width="1" height="1" fill="#ff0000"/>
<rect x="518" y="331" width="6" height="1" fill="#ff0000"/>
<rect x="528" y="321" width="1" height="1" fill="#ff0000"/>
<rect x="528" y="331" width="1" height="2" fill="#ff0000"/>
<rect x="525.5" y="322.5" width="5" height="8" fill="#fff" stroke="#ff0000"/>
<rect x="535" y="315" width="1" height="10" fill="#008000"/>
<rect x="532" y="325" width="6" height="3" fill="#008000"/>
<rect x="542" y="312" width="1" height="1" fill="#ff0000"/>
<rect x="542" y="326" width="1" height="2" fill="#ff0000"/>
<rect x="539.5" y="313.5" width="5" height="12" fill="#fff" stroke="#ff0000"/>
<rect x="549" y="314" width="1" height="5" fill="#008000"/>
<rect x="546" y="312" width="6" height="2" fill="#008000"/>
<rect x="556" y="312" width="1" height="3" fill="#ff0000"/>
<rect x="556" y="316" width="1" height="10" fill="#ff0000"/>
<rect x="553" y="315" width="6" height="1" fill="#ff0000"/>
<rect x="563" y="314" width="1" height="1" fill="#008000"/>
<rect x="563" y="328" width="1" height="1" fill="#008000"/>
<rect x="560" y="315" width="6" height="13" fill="#008000"/>
<rect x="570" y="323" width="1" height="2" fill="#ff0000"/>
<rect x="570" y="328" width="1" height="3" fill="#ff0000"/>
<rect x="567.5" y="325.5" width="5" height="2" fill="#fff" stroke="#ff0000"/>
<rect x="577" y="322" width="1" height="1" fill="#ff0000"/>
<rect x="574.5" y="312.5" width="5" height="9" fill="#fff" stroke="#ff0000"/>
<rect x="584" y="313" width="1" height="5" fill="#008000"/>
<rect x="581" y="312" width="6" height="1" fill="#008000"/>
<rect x="591" y="310" width="1" height="2" fill="#008000"/>
<rect x="591" y="313" width="1" height="8" fill="#008000"/>
<rect x="588" y="312" width="6" height="1" fill="#008000"/>
<rect x="598" y="310" width="1" height="3" fill="#008000"/>
<rect x="598" y="320" width="1" height="1" fill="#008000"/>
<rect x="595" y="313" width="6" height="7" fill="#008000"/>
<rect x="605" y="310" width="1" height="1" fill="#ff0000"/>
<rect x="605" y="319" width="1" height="2" fill="#ff0000"/>
<rect x="602.5" y="311.5" width="5" height="7" fill="#fff" stroke="#ff0000"/>
<rect x="612" y="304" width="1" height="1" fill="#ff0000"/>
<rect x="612" y="309" width="1" height="1" fill="#ff0000"/>
<rect x="609.5" y="305.5" width="5" height="3" fill="#fff" stroke="#ff0000"/>
<rect x="619" y="304" width="1" height="5" fill="#ff0000"/>
<rect x="616" y="302" width="6" height="2" fill="#ff0000"/>
<rect x="626" y="302" width="1" height="2" fill="#008000"/>
<rect x="626" y="305" width="1" height="2" fill="#008000"/>
<rect x="623" y="304" width="6" height="1" fill="#008000"/>
<rect x="633" y="309" width="1" height="8" fill="#008000"/>
<rect x="630" y="305" width="6" height="4" fill="#008000"/>
<rect x="640" y="303" width="1" height="1" fill="#ff0000"/>
<rect x="640" y="310" width="1" height="1" fill="#ff0000"/>
<rect x="637.5" y="304.5" width="5" height="5" fill="#fff" stroke="#ff0000"/>
<rect x="647" y="308" width="1" height="5" fill="#008000"/>
<rect x="644" y="304" width="6" height="4" fill="#008000"/>
<rect x="654" y="309" width="1" height="2" fill="#008000"/>
<rect x="654" y="318" width="1" height="4" fill="#008000"/>
<rect x="651" y="311" width="6" height="7" fill="#008000"/>
<rect x="661" y="316" width="1" height="2" fill="#ff0000"/>
<rect x="661" y="319" width="1" height="2" fill="#ff0000"/>
<rect x="658" y="318" width="6" height="1" fill="#ff0000"/>
<rect x="668" y="316" width="1" height="2" fill="#008000"/>
<rect x="668" y="324" width="1" height="1" fill="#008000"/>
<rect x="665" y="318" width="6" height="6" fill="#008000"/>
<rect x="675" y="314" width="1" height="1" fill="#ff0000"/>
<rect x="675" y="323" width="1" height="2" fill="#ff0000"/>
<rect x="672.5" y="315.5" width="5" height="7" fill="#fff" stroke="#ff0000"/>
<rect x="682" y="306" width="1" height="2" fill="#ff0000"/>
<rect x="682" y="312" width="1" height="2" fill="#ff0000"/>
<rect x="679.5" y="308.5" width="5" height="3" fill="#fff" stroke="#ff0000"/>
<rect x="689" y="292" width="1" height="1" fill="#ff0000"/>
<rect x="689" y="304" width="1" height="3" fill="#ff0000"/>
<rect x="686.5" y="293.5" width="5" height="10" fill="#fff" stroke="#ff0000"/>
<rect x="696" y="282" width="1" height="1" fill="#ff0000"/>
<rect x="696" y="291" width="1" height="1" fill="#ff0000"/>
<rect x="693.5" y="283.5" width="5" height="7" fill="#fff" stroke="#ff0000"/>
<rect x="703" y="274" width="1" height="1" fill="#ff0000"/>
<rect x="703" y="281" width="1" height="3" fill="#ff0000"/>
<rect x="700.5" y="275.5" width="5" height="5" fill="#fff" stroke="#ff0000"/>
<rect x="710" y="265" width="1" height="1" fill="#ff0000"/>
<rect x="710" y="273" width="1" height="1" fill="#ff0000"/>
<rect x="707.5" y="266.5" width="5" height="6" fill="#fff" stroke="#ff0000"/>
<rect x="717" y="266" width="1" height="5" fill="#008000"/>
<rect x="714" y="265" width="6" height="1" fill="#008000"/>
<rect x="724" y="269" width="1" height="2" fill="#008000"/>
<rect x="724" y="272" width="1" height="3" fill="#008000"/>
<rect x="721" y="271" width="6" height="1" fill="#008000"/>
<rect x="731" y="259" width="1" height="12" fill="#008000"/>
<rect x="731" y="273" width="1" height="2" fill="#008000"/>
<rect x="728" y="271" width="6" height="2" fill="#008000"/>
<rect x="738" y="263" width="1" height="1" fill="#ff0000"/>
<rect x="738" y="274" width="1" height="3" fill="#ff0000"/>
<rect x="735.5" y="264.5" width="5" height="9" fill="#fff" stroke="#ff0000"/>
<rect x="745" y="263" width="1" height="4" fill="#ff0000"/>
<rect x="742.5" y="260.5" width="5" height="2" fill="#fff" stroke="#ff0000"/>
<rect x="752" y="257" width="1" height="2" fill="#008000"/>
<rect x="752" y="279" width="1" height="2" fill="#008000"/>
<rect x="749" y="259" width="6" height="20" fill="#008000"/>
<rect x="759" y="277" width="1" height="8" fill="#ff0000"/>
<rect x="756" y="275" width="6" height="2" fill="#ff0000"/>
<rect x="766" y="269" width="1" height="2" fill="#ff0000"/>
<rect x="766" y="275" width="1" height="4" fill="#ff0000"/>
<rect x="763.5" y="271.5" width="5" height="3" fill="#fff" stroke="#ff0000"/>
<rect x="773" y="264" width="1" height="2" fill="#ff0000"/>
<rect x="773" y="271" width="1" height="4" fill="#ff0000"/>
<rect x="770.5" y="266.5" width="5" height="4" fill="#fff" stroke="#ff0000"/>
<rect x="780" y="282" width="1" height="3" fill="#008000"/>
<rect x="777" y="267" width="6" height="15" fill="#008000"/>
<rect x="784.5" y="273.5" width="5" height="9" fill="#fff" stroke="#ff0000"/>
<rect x="794" y="257" width="1" height="1" fill="#ff0000"/>
<rect x="794" y="277" width="1" height="2" fill="#ff0000"/>
<rect x="791.5" y="258.5" width="5" height="18" fill="#fff" stroke="#ff0000"/>
<rect x="801" y="250" width="1" height="4" fill="#008000"/>
<rect x="801" y="258" width="1" height="3" fill="#008000"/>
<rect x="798" y="254" width="6" height="4" fill="#008000"/>
<rect x="808" y="255" width="1" height="1" fill="#ff0000"/>
<rect x="808" y="259" width="1" height="5" fill="#ff0000"/>
<rect x="805.5" y="256.5" width="5" height="2" fill="#fff" stroke="#ff0000"/>
<rect x="815" y="250" width="1" height="2" fill="#ff0000"/>
<rect x="815" y="254" width="1" height="3" fill="#ff0000"/>
<rect x="812" y="252" width="6" height="2" fill="#ff0000"/>
<rect x="822" y="250" width="1" height="4" fill="#ff0000"/>
<rect x="819" y="249" width="6" height="1" fill="#ff0000"/>
<rect x="829" y="247" width="1" height="6" fill="#ff0000"/>
<rect x="826.5" y="241.5" width="5" height="5" fill="#fff" stroke="#ff0000"/>
<rect x="836" y="237" width="1" height="1" fill="#ff0000"/>
<rect x="836" y="240" width="1" height="8" fill="#ff0000"/>
<rect x="833" y="238" width="6" height="2" fill="#ff0000"/>
<rect x="843" y="240" width="1" height="2" fill="#008000"/>
<rect x="843" y="244" width="1" height="5" fill="#008000"/>
<rect x="840" y="242" width="6" height="2" fill="#008000"/>
<rect x="850" y="249" width="1" height="10" fill="#008000"/>
<rect x="847" y="248" width="6" height="1" fill="#008000"/>
<rect x="857" y="243" width="1" height="7" fill="#008000"/>
<rect x="857" y="251" width="1" height="5" fill="#008000"/>
<rect x="854" y="250" width="6" height="1" fill="#008000"/>
<rect x="864" y="244" width="1" height="1" fill="#ff0000"/>
<rect x="864" y="252" width="1" height="6" fill="#ff0000"/>
<rect x="861.5" y="245.5" width="5" height="6" fill="#fff" stroke="#ff0000"/>
<rect x="871" y="239" width="1" height="11" fill="#008000"/>
<rect x="871" y="253" width="1" height="1" fill="#008000"/>
<rect x="868" y="250" width="6" height="3" fill="#008000"/>
<rect x="878" y="252" width="1" height="2" fill="#008000"/>
<rect x="878" y="259" width="1" height="13" fill="#008000"/>
<rect x="875" y="254" width="6" height="5" fill="#008000"/>
<rect x="885" y="257" width="1" height="3" fill="#ff0000"/>
<rect x="882.5" y="252.5" width="5" height="4" fill="#fff" stroke="#ff0000"/>
<rect x="892" y="251" width="1" height="2" fill="#008000"/>
<rect x="892" y="260" width="1" height="1" fill="#008000"/>
<rect x="889" y="253" width="6" height="7" fill="#008000"/>
<rect x="899" y="255" width="1" height="5" fill="#008000"/>
<rect x="899" y="266" width="1" height="1" fill="#008000"/>
<rect x="896" y="260" width="6" height="6" fill="#008000"/>
<rect x="906" y="265" width="1" height="3" fill="#008000"/>
<rect x="906" y="277" width="1" height="2" fill="#008000"/>
<rect x="903" y="268" width="6" height="9" fill="#008000"/>
<rect x="913" y="272" width="1" height="4" fill="#008000"/>
<rect x="913" y="277" width="1" height="2" fill="#008000"/>
<rect x="910" y="276" width="6" height="1" fill="#008000"/>
<rect x="920" y="282" width="1" height="5" fill="#008000"/>
<rect x="917" y="281" width="6" height="1" fill="#008000"/>
<rect x="924.5" y="261.5" width="5" height="17" fill="#fff" stroke="#ff0000"/>
<rect x="934" y="241" width="1" height="4" fill="#ff0000"/>
<rect x="934" y="258" width="1" height="2" fill="#ff0000"/>
<rect x="931.5" y="245.5" width="5" height="12" fill="#fff" stroke="#ff0000"/>
<rect x="941" y="234" width="1" height="3" fill="#ff0000"/>
<rect x="941" y="245" width="1" height="3" fill="#ff0000"/>
<rect x="938.5" y="237.5" width="5" height="7" fill="#fff" stroke="#ff0000"/>
<rect x="948" y="223" width="1" height="2" fill="#ff0000"/>
<rect x="948" y="235" width="1" height="5" fill="#ff0000"/>
<rect x="945.5" y="225.5" width="5" height="9" fill="#fff" stroke="#ff0000"/>
<rect x="955" y="218" width="1" height="2" fill="#ff0000"/>
<rect x="955" y="221" width="1" height="4" fill="#ff0000"/>
<rect x="952" y="220" width="6" height="1" fill="#ff0000"/>
<rect x="962" y="217" width="1" height="2" fill="#ff0000"/>
<rect x="962" y="220" width="1" height="5" fill="#ff0000"/>
<rect x="959" y="219" width="6" height="1" fill="#ff0000"/>
<rect x="969" y="224" width="1" height="2" fill="#008000"/>
<rect x="966" y="220" width="6" height="4" fill="#008000"/>
<rect x="976" y="221" width="1" height="1" fill="#ff0000"/>
<rect x="976" y="224" width="1" height="8" fill="#ff0000"/>
<rect x="973" y="222" width="6" height="2" fill="#ff0000"/>
<rect x="983" y="210" width="1" height="11" fill="#008000"/>
<rect x="983" y="225" width="1" height="5" fill="#008000"/>
<rect x="980" y="221" width="6" height="4" fill="#008000"/>
<rect x="990" y="216" width="1" height="4" fill="#ff0000"/>
<rect x="987.5" y="201.5" width="5" height="14" fill="#fff" stroke="#ff0000"/>
<rect x="997" y="185" width="1" height="11" fill="#008000"/>
<rect x="997" y="202" width="1" height="11" fill="#008000"/>
<rect x="994" y="196" width="6" height="6" fill="#008000"/>
<rect x="70" y="576" width="6" height="14" fill="#008000"/>
<rect x="77.5" y="578.5" width="5" height="11" fill="#fff" stroke="#ff0000"/>
<rect x="84.5" y="578.5" width="5" height="11" fill="#fff" stroke="#ff0000"/>
<rect x="91.5" y="576.5" width="5" height="13" fill="#fff" stroke="#ff0000"/>
<rect x="98.5" y="578.5" width="5" height="11" fill="#fff" stroke="#ff0000"/>
<rect x="105" y="578" width="6" height="12" fill="#008000"/>
<rect x="112.5" y="578.5" width="5" height="11" fill="#fff" stroke="#ff0000"/>
<rect x="119" y="578" width="6" height="12" fill="#008000"/>
<rect x="126.5" y="571.5" width="5" height="18" fill="#fff" stroke="#ff0000"/>
<rect x="133" y="574" width="6" height="16" fill="#008000"/>
<rect x="140" y="578" width="6" height="12" fill="#008000"/>
<rect x="147" y="578" width="6" height="12" fill="#008000"/>
<rect x="154.5" y="578.5" width="5" height="11" fill="#fff" stroke="#ff0000"/>
<rect x="161" y="580" width="6" height="10" fill="#008000"/>
<rect x="168" y="580" width="6" height="10" fill="#008000"/>
<rect x="175.5" y="580.5" width="5" height="9" fill="#fff" stroke="#ff0000"/>
<rect x="182" y="578" width="6" height="12" fill="#008000"/>
<rect x="189.5" y="579.5" width="5" height="10" fill="#fff" stroke="#ff0000"/>
<rect x="196" y="579" width="6" height="11" fill="#008000"/>
<rect x="203" y="579" width="6" height="11" fill="#008000"/>
<rect x="210.5" y="576.5" width="5" height="13" fill="#fff" stroke="#ff0000"/>
<rect x="217" y="577" width="6" height="13" fill="#008000"/>
<rect x="224" y="578" width="6" height="12" fill="#008000"/>
<rect x="231" y="579" width="6" height="11" fill="#008000"/>
<rect x="238" y="578" width="6" height="12" fill="#008000"/>
<rect x="245.5" y="578.5" width="5" height="11" fill="#fff" stroke="#ff0000"/>
<rect x="252" y="579" width="6" height="11" fill="#008000"/>
<rect x="259.5" y="580.5" width="5" height="9" fill="#fff" stroke="#ff0000"/>
<rect x="266.5" y="576.5" width="5" height="13" fill="#fff" stroke="#ff0000"/>
<rect x="273.5" y="578.5" width="5" height="11" fill="#fff" stroke="#ff0000"/>
<rect x="280.5" y="576.5" width="5" height="13" fill="#fff" stroke="#ff0000"/>
<rect x="287.5" y="573.5" width="5" height="16" fill="#fff" stroke="#ff0000"/>
<rect x="294.5" y="574.5" width="5" height="15" fill="#fff" stroke="#ff0000"/>
<rect x="301" y="576" width="6" height="14" fill="#008000"/>
<rect x="308" y="576" width="6" height="14" fill="#008000"/>
<rect x="315" y="575" width="6" height="15" fill="#008000"/>
<rect x="322.5" y="578.5" width="5" height="11" fill="#fff" stroke="#ff0000"/>
<rect x="329" y="579" width="6" height="11" fill="#008000"/>
<rect x="336.5" y="578.5" width="5" height="11" fill="#fff" stroke="#ff0000"/>
<rect x="343" y="579" width="6" height="11" fill="#008000"/>
<rect x="350.5" y="576.5" width="5" height="13" fill="#fff" stroke="#ff0000"/>
<rect x="357.5" y="573.5" width="5" height="16" fill="#fff" stroke="#ff0000"/>
<rect x="364.5" y="574.5" width="5" height="15" fill="#fff" stroke="#ff0000"/>
<rect x="371" y="574" width="6" height="16" fill="#008000"/>
<rect x="378.5" y="571.5" width="5" height="18" fill="#fff" stroke="#ff0000"/>
<rect x="385.5" y="569.5" width="5" height="20" fill="#fff" stroke="#ff0000"/>
<rect x="392" y="573" width="6" height="17" fill="#008000"/>
<rect x="399.5" y="573.5" width="5" height="16" fill="#fff" stroke="#ff0000"/>
<rect x="406.5" y="574.5" width="5" height="15" fill="#fff" stroke="#ff0000"/>
<rect x="413" y="572" width="6" height="18" fill="#008000"/>
<rect x="420.5" y="573.5" width="5" height="16" fill="#fff" stroke="#ff0000"/>
<rect x="427.5" y="572.5" width="5" height="17" fill="#fff" stroke="#ff0000"/>
<rect x="434.5" y="571.5" width="5" height="18" fill="#fff" stroke="#ff0000"/>
<rect x="441.5" y="569.5" width="5" height="20" fill="#fff" stroke="#ff0000"/>
<rect x="448" y="568" width="6" height="22" fill="#008000"/>
<rect x="455" y="573" width="6" height="17" fill="#008000"/>
<rect x="462.5" y="572.5" width="5" height="17" fill="#fff" stroke="#ff0000"/>
<rect x="469" y="575" width="6" height="15" fill="#008000"/>
<rect x="476.5" y="569.5" width="5" height="20" fill="#fff" stroke="#ff0000"/>
<rect x="483.5" y="567.5" width="5" height="22" fill="#fff" stroke="#ff0000"/>
<rect x="490.5" y="562.5" width="5" height="27" fill="#fff" stroke="#ff0000"/>
<rect x="497.5" y="566.5" width="5" height="23" fill="#fff" stroke="#ff0000"/>
<rect x="504.5" y="551.5" width="5" height="38" fill="#fff" stroke="#ff0000"/>
<rect x="511.5" y="557.5" width="5" height="32" fill="#fff" stroke="#ff0000"/>
<rect x="518.5" y="559.5" width="5" height="30" fill="#fff" stroke="#ff0000"/>
<rect x="525.5" y="563.5" width="5" height="26" fill="#fff" stroke="#ff0000"/>
<rect x="532" y="559" width="6" height="31" fill="#008000"/>
<rect x="539.5" y="561.5" width="5" height="28" fill="#fff" stroke="#ff0000"/>
<rect x="546" y="562" width="6" height="28" fill="#008000"/>
<rect x="553.5" y="561.5" width="5" height="28" fill="#fff" stroke="#ff0000"/>
<rect x="560" y="562" width="6" height="28" fill="#008000"/>
<rect x="567.5" y="567.5" width="5" height="22" fill="#fff" stroke="#ff0000"/>
<rect x="574.5" y="565.5" width="5" height="24" fill="#fff" stroke="#ff0000"/>
<rect x="581" y="565" width="6" height="25" fill="#008000"/>
<rect x="588" y="561" width="6" height="29" fill="#008000"/>
<rect x="595" y="563" width="6" height="27" fill="#008000"/>
<rect x="602.5" y="565.5" width="5" height="24" fill="#fff" stroke="#ff0000"/>
<rect x="609.5" y="563.5" width="5" height="26" fill="#fff" stroke="#ff0000"/>
<rect x="616.5" y="561.5" width="5" height="28" fill="#fff" stroke="#ff0000"/>
<rect x="623" y="563" width="6" height="27" fill="#008000"/>
<rect x="630" y="563" width="6" height="27" fill="#008000"/>
<rect x="637.5" y="563.5" width="5" height="26" fill="#fff" stroke="#ff0000"/>
<rect x="644" y="564" width="6" height="26" fill="#008000"/>
<rect x="651" y="564" width="6" height="26" fill="#008000"/>
<rect x="658.5" y="570.5" width="5" height="19" fill="#fff" stroke="#ff0000"/>
<rect x="665" y="570" width="6" height="20" fill="#008000"/>
<rect x="672.5" y="572.5" width="5" height="17" fill="#fff" stroke="#ff0000"/>
<rect x="679.5" y="568.5" width="5" height="21" fill="#fff" stroke="#ff0000"/>
<rect x="686.5" y="558.5" width="5" height="31" fill="#fff" stroke="#ff0000"/>
<rect x="693.5" y="555.5" width="5" height="34" fill="#fff" stroke="#ff0000"/>
<rect x="700.5" y="557.5" width="5" height="32" fill="#fff" stroke="#ff0000"/>
<rect x="707.5" y="555.5" width="5" height="34" fill="#fff" stroke="#ff0000"/>
<rect x="714" y="558" width="6" height="32" fill="#008000"/>
<rect x="721" y="560" width="6" height="30" fill="#008000"/>
<rect x="728" y="554" width="6" height="36" fill="#008000"/>
<rect x="735.5" y="558.5" width="5" height="31" fill="#fff" stroke="#ff0000"/>
<rect x="742.5" y="555.5" width="5" height="34" fill="#fff" stroke="#ff0000"/>
<rect x="749" y="541" width="6" height="49" fill="#008000"/>
<rect x="756.5" y="555.5" width="5" height="34" fill="#fff" stroke="#ff0000"/>
<rect x="763.5" y="559.5" width="5" height="30" fill="#fff" stroke="#ff0000"/>
<rect x="770.5" y="561.5" width="5" height="28" fill="#fff" stroke="#ff0000"/>
<rect x="777" y="562" width="6" height="28" fill="#008000"/>
<rect x="784.5" y="564.5" width="5" height="25" fill="#fff" stroke="#ff0000"/>
<rect x="791.5" y="553.5" width="5" height="36" fill="#fff" stroke="#ff0000"/>
<rect x="798" y="554" width="6" height="36" fill="#008000"/>
<rect x="805.5" y="561.5" width="5" height="28" fill="#fff" stroke="#ff0000"/>
<rect x="812.5" y="557.5" width="5" height="32" fill="#fff" stroke="#ff0000"/>
<rect x="819.5" y="558.5" width="5" height="31" fill="#fff" stroke="#ff0000"/>
<rect x="826.5" y="556.5" width="5" height="33" fill="#fff" stroke="#ff0000"/>
<rect x="833.5" y="551.5" width="5" height="38" fill="#fff" stroke="#ff0000"/>
<rect x="840" y="554" width="6" height="36" fill="#008000"/>
<rect x="847" y="558" width="6" height="32" fill="#008000"/>
<rect x="854" y="558" width="6" height="32" fill="#008000"/>
<rect x="861.5" y="557.5" width="5" height="32" fill="#fff" stroke="#ff0000"/>
<rect x="868" y="550" width="6" height="40" fill="#008000"/>
<rect x="875" y="556" width="6" height="34" fill="#008000"/>
<rect x="882.5" y="563.5" width="5" height="26" fill="#fff" stroke="#ff0000"/>
<rect x="889" y="563" width="6" height="27" fill="#008000"/>
<rect x="896" y="566" width="6" height="24" fill="#008000"/>
<rect x="903" y="564" width="6" height="26" fill="#008000"/>
<rect x="910" y="569" width="6" height="21" fill="#008000"/>
<rect x="917" y="569" width="6" height="21" fill="#008000"/>
<rect x="924.5" y="560.5" width="5" height="29" fill="#fff" stroke="#ff0000"/>
<rect x="931.5" y="546.5" width="5" height="43" fill="#fff" stroke="#ff0000"/>
<rect x="938.5" y="542.5" width="5" height="47" fill="#fff" stroke="#ff0000"/>
<rect x="945.5" y="538.5" width="5" height="51" fill="#fff" stroke="#ff0000"/>
<rect x="952.5" y="541.5" width="5" height="48" fill="#fff" stroke="#ff0000"/>
<rect x="959.5" y="539.5" width="5" height="50" fill="#fff" stroke="#ff0000"/>
<rect x="966" y="548" width="6" height="42" fill="#008000"/>
<rect x="973.5" y="553.5" width="5" height="36" fill="#fff" stroke="#ff0000"/>
<rect x="980" y="543" width="6" height="47" fill="#008000"/>
<rect x="987.5" y="541.5" width="5" height="48" fill="#fff" stroke="#ff0000"/>
<rect x="994" y="524" width="6" height="66" fill="#008000"/>
<rect x="73" y="656" width="1" height="23" fill="#008000"/>
<rect x="80" y="656" width="1" height="24" fill="#008000"/>
<rect x="87" y="656" width="1" height="22" fill="#008000"/>
<rect x="94" y="656" width="1" height="20" fill="#008000"/>
<rect x="101" y="656" width="1" height="17" fill="#008000"/>
<rect x="108" y="656" width="1" height="17" fill="#008000"/>
<rect x="115" y="656" width="1" height="16" fill="#008000"/>
<rect x="122" y="656" width="1" height="14" fill="#008000"/>
<rect x="129" y="656" width="1" height="6" fill="#008000"/>
<rect x="136" y="656" width="1" height="1" fill="#008000"/>
<rect x="143" y="655" width="1" height="2" fill="#ff0000"/>
<rect x="150" y="656" width="1" height="1" fill="#ff0000"/>
<rect x="164" y="656" width="1" height="3" fill="#008000"/>
<rect x="171" y="656" width="1" height="4" fill="#008000"/>
<rect x="178" y="656" width="1" height="2" fill="#008000"/>
<rect x="185" y="656" width="1" height="1" fill="#008000"/>
<rect x="192" y="655" width="1" height="2" fill="#ff0000"/>
<rect x="199" y="652" width="1" height="5" fill="#ff0000"/>
<rect x="206" y="651" width="1" height="6" fill="#ff0000"/>
<rect x="213" y="649" width="1" height="8" fill="#ff0000"/>
<rect x="220" y="649" width="1" height="8" fill="#ff0000"/>
<rect x="227" y="650" width="1" height="7" fill="#ff0000"/>
<rect x="234" y="650" width="1" height="7" fill="#ff0000"/>
<rect x="241" y="652" width="1" height="5" fill="#ff0000"/>
<rect x="248" y="653" width="1" height="4" fill="#ff0000"/>
<rect x="255" y="654" width="1" height="3" fill="#ff0000"/>
<rect x="262" y="654" width="1" height="3" fill="#ff0000"/>
<rect x="269" y="652" width="1" height="5" fill="#ff0000"/>
<rect x="276" y="651" width="1" height="6" fill="#ff0000"/>
<rect x="283" y="651" width="1" height="6" fill="#ff0000"/>
<rect x="290" y="647" width="1" height="10" fill="#ff0000"/>
<rect x="297" y="644" width="1" height="13" fill="#ff0000"/>
<rect x="304" y="645" width="1" height="12" fill="#ff0000"/>
<rect x="311" y="648" width="1" height="9" fill="#ff0000"/>
<rect x="318" y="655" width="1" height="2" fill="#ff0000"/>
<rect x="325" y="656" width="1" height="2" fill="#008000"/>
<rect x="332" y="656" width="1" height="5" fill="#008000"/>
<rect x="339" y="656" width="1" height="5" fill="#008000"/>
<rect x="346" y="656" width="1" height="6" fill="#008000"/>
<rect x="353" y="656" width="1" height="5" fill="#008000"/>
<rect x="360" y="656" width="1" height="3" fill="#008000"/>
<rect x="381" y="654" width="1" height="3" fill="#ff0000"/>
<rect x="388" y="652" width="1" height="5" fill="#ff0000"/>
<rect x="395" y="652" width="1" height="5" fill="#ff0000"/>
<rect x="402" y="651" width="1" height="6" fill="#ff0000"/>
<rect x="409" y="650" width="1" height="7" fill="#ff0000"/>
<rect x="416" y="655" width="1" height="2" fill="#ff0000"/>
<rect x="423" y="656" width="1" height="1" fill="#008000"/>
<rect x="430" y="656" width="1" height="1" fill="#008000"/>
<rect x="437" y="655" width="1" height="2" fill="#ff0000"/>
<rect x="444" y="654" width="1" height="3" fill="#ff0000"/>
<rect x="451" y="652" width="1" height="5" fill="#ff0000"/>
<rect x="458" y="654" width="1" height="3" fill="#ff0000"/>
<rect x="465" y="655" width="1" height="2" fill="#ff0000"/>
<rect x="472" y="656" width="1" height="1" fill="#ff0000"/>
<rect x="479" y="654" width="1" height="3" fill="#ff0000"/>
<rect x="486" y="653" width="1" height="4" fill="#ff0000"/>
<rect x="493" y="648" width="1" height="9" fill="#ff0000"/>
<rect x="500" y="643" width="1" height="14" fill="#ff0000"/>
<rect x="507" y="634" width="1" height="23" fill="#ff0000"/>
<rect x="514" y="628" width="1" height="29" fill="#ff0000"/>
<rect x="521" y="626" width="1" height="31" fill="#ff0000"/>
<rect x="528" y="625" width="1" height="32" fill="#ff0000"/>
<rect x="535" y="628" width="1" height="29" fill="#ff0000"/>
<rect x="542" y="626" width="1" height="31" fill="#ff0000"/>
<rect x="549" y="628" width="1" height="29" fill="#ff0000"/>
<rect x="556" y="632" width="1" height="25" fill="#ff0000"/>
<rect x="563" y="640" width="1" height="17" fill="#ff0000"/>
<rect x="570" y="646" width="1" height="11" fill="#ff0000"/>
<rect x="577" y="647" width="1" height="10" fill="#ff0000"/>
<rect x="584" y="649" width="1" height="8" fill="#ff0000"/>
<rect x="591" y="650" width="1" height="7" fill="#ff0000"/>
<rect x="598" y="656" width="1" height="1" fill="#ff0000"/>
<rect x="619" y="656" width="1" height="1" fill="#ff0000"/>
<rect x="626" y="656" width="1" height="1" fill="#008000"/>
<rect x="633" y="656" width="1" height="4" fill="#008000"/>
<rect x="640" y="656" width="1" height="5" fill="#008000"/>
<rect x="647" y="656" width="1" height="7" fill="#008000"/>
<rect x="654" y="656" width="1" height="13" fill="#008000"/>
<rect x="661" y="656" width="1" height="16" fill="#008000"/>
<rect x="668" y="656" width="1" height="18" fill="#008000"/>
<rect x="675" y="656" width="1" height="18" fill="#008000"/>
<rect x="682" y="656" width="1" height="13" fill="#008000"/>
<rect x="689" y="656" width="1" height="8" fill="#008000"/>
<rect x="703" y="650" width="1" height="7" fill="#ff0000"/>
<rect x="710" y="644" width="1" height="13" fill="#ff0000"/>
<rect x="717" y="642" width="1" height="15" fill="#ff0000"/>
<rect x="724" y="643" width="1" height="14" fill="#ff0000"/>
<rect x="731" y="646" width="1" height="11" fill="#ff0000"/>
<rect x="738" y="646" width="1" height="11" fill="#ff0000"/>
<rect x="745" y="646" width="1" height="11" fill="#ff0000"/>
<rect x="752" y="654" width="1" height="3" fill="#ff0000"/>
<rect x="759" y="656" width="1" height="1" fill="#008000"/>
<rect x="766" y="656" width="1" height="3" fill="#008000"/>
<rect x="773" y="656" width="1" height="3" fill="#008000"/>
<rect x="780" y="656" width="1" height="9" fill="#008000"/>
<rect x="787" y="656" width="1" height="10" fill="#008000"/>
<rect x="794" y="656" width="1" height="6" fill="#008000"/>
<rect x="801" y="656" width="1" height="4" fill="#008000"/>
<rect x="808" y="656" width="1" height="2" fill="#008000"/>
<rect x="815" y="656" width="1" height="1" fill="#008000"/>
<rect x="822" y="656" width="1" height="1" fill="#ff0000"/>
<rect x="829" y="653" width="1" height="4" fill="#ff0000"/>
<rect x="836" y="651" width="1" height="6" fill="#ff0000"/>
<rect x="843" y="653" width="1" height="4" fill="#ff0000"/>
<rect x="850" y="656" width="1" height="1" fill="#ff0000"/>
<rect x="857" y="656" width="1" height="3" fill="#008000"/>
<rect x="864" y="656" width="1" height="4" fill="#008000"/>
<rect x="871" y="656" width="1" height="7" fill="#008000"/>
<rect x="878" y="656" width="1" height="12" fill="#008000"/>
<rect x="885" y="656" width="1" height="12" fill="#008000"/>
<rect x="892" y="656" width="1" height="15" fill="#008000"/>
<rect x="899" y="656" width="1" height="18" fill="#008000"/>
<rect x="906" y="656" width="1" height="23" fill="#008000"/>
<rect x="913" y="656" width="1" height="26" fill="#008000"/>
<rect x="920" y="656" width="1" height="27" fill="#008000"/>
<rect x="927" y="656" width="1" height="21" fill="#008000"/>
<rect x="934" y="656" width="1" height="12" fill="#008000"/>
<rect x="941" y="656" width="1" height="2" fill="#008000"/>
<rect x="948" y="650" width="1" height="7" fill="#ff0000"/>
<rect x="955" y="643" width="1" height="14" fill="#ff0000"/>
<rect x="962" y="638" width="1" height="19" fill="#ff0000"/>
<rect x="969" y="640" width="1" height="17" fill="#ff0000"/>
<rect x="976" y="641" width="1" height="16" fill="#ff0000"/>
<rect x="983" y="644" width="1" height="13" fill="#ff0000"/>
<rect x="990" y="639" width="1" height="18" fill="#ff0000"/>
<rect x="997" y="638" width="1" height="19" fill="#ff0000"/>
<rect x="1004" y="638" width="1" height="19" fill="#ff0000"/>
<rect x="1011" y="640" width="1" height="17" fill="#ff0000"/>
<rect x="1018" y="643" width="1" height="14" fill="#ff0000"/>
<rect x="1025" y="646" width="1" height="11" fill="#ff0000"/>
<rect x="1032" y="649" width="1" height="8" fill="#ff0000"/>
<rect x="1039" y="652" width="1" height="5" fill="#ff0000"/>
<rect x="1046" y="655" width="1" height="2" fill="#ff0000"/>
<rect x="1053" y="656" width="1" height="1" fill="#008000"/>
<rect x="1060" y="656" width="1" height="2" fill="#008000"/>
<rect x="1067" y="656" width="1" height="4" fill="#008000"/>
<rect x="1074" y="656" width="1" height="6" fill="#008000"/>
<rect x="1081" y="656" width="1" height="8" fill="#008000"/>
<rect x="1088" y="656" width="1" height="9" fill="#008000"/>
<rect x="1095" y="656" width="1" height="10" fill="#008000"/>
<rect x="1102" y="656" width="1" height="10" fill="#008000"/>
<rect x="1109" y="656" width="1" height="10" fill="#008000"/>
<rect x="1116" y="656" width="1" height="10" fill="#008000"/>
<rect x="1123" y="656" width="1" height="10" fill="#008000"/>
<rect x="1130" y="656" width="1" height="10" fill="#008000"/>
<rect x="1137" y="656" width="1" height="10" fill="#008000"/>
<rect x="1144" y="656" width="1" height="10" fill="#008000"/>
<rect x="1151" y="656" width="1" height="10" fill="#008000"/>
<rect x="1158" y="656" width="1" height="10" fill="#008000"/>
<rect x="1165" y="656" width="1" height="9" fill="#008000"/>
<rect x="1172" y="656" width="1" height="8" fill="#008000"/>
<rect x="1179" y="656" width="1" height="8" fill="#008000"/>
<rect x="1186" y="656" width="1" height="8" fill="#008000"/>
<rect x="1193" y="656" width="1" height="8" fill="#008000"/>
<rect x="1200" y="656" width="1" height="7" fill="#008000"/>
<rect x="1207" y="656" width="1" height="7" fill="#008000"/>
<polyline points="73.5,649.5 80.5,652.5 87.5,655.5 94.5,657.5 101.5,660.5 108.5,662.5 115.5,664.5 122.5,667.5 129.5,667.5 136.5,667.5 143.5,667.5 150.5,667.5 157.5,667.5 164.5,667.5 171.5,668.5 178.5,668.5 185.5,668.5 192.5,668.5 199.5,667.5 206.5,666.5 213.5,665.5 220.5,664.5 227.5,663.5 234.5,663.5 241.5,662.5 248.5,661.5 255.5,661.5 262.5,660.5 269.5,660.5 276.5,659.5 283.5,658.5 290.5,657.5 297.5,656.5 304.5,654.5 311.5,652.5 318.5,652.5 325.5,654.5 332.5,654.5 339.5,655.5 346.5,656.5 353.5,656.5 360.5,657.5 367.5,657.5 374.5,656.5 381.5,656.5 388.5,655.5 395.5,654.5 402.5,654.5 409.5,653.5 416.5,653.5 423.5,653.5 430.5,653.5 437.5,653.5 444.5,653.5 451.5,652.5 458.5,652.5 465.5,652.5 472.5,652.5 479.5,652.5 486.5,651.5 493.5,650.5 500.5,649.5 507.5,646.5 514.5,642.5 521.5,638.5 528.5,634.5 535.5,630.5 542.5,626.5 549.5,623.5 556.5,619.5 563.5,617.5 570.5,616.5 577.5,615.5 584.5,614.5 591.5,613.5 598.5,613.5 605.5,613.5 612.5,613.5 619.5,613.5 626.5,614.5 633.5,615.5 640.5,616.5 647.5,617.5 654.5,619.5 661.5,620.5 668.5,622.5 675.5,624.5 682.5,625.5 689.5,626.5 696.5,626.5 703.5,625.5 710.5,624.5 717.5,622.5 724.5,621.5 731.5,619.5 738.5,618.5 745.5,616.5 752.5,616.5 759.5,616.5 766.5,617.5 773.5,617.5 780.5,618.5 787.5,620.5 794.5,620.5 801.5,621.5 808.5,622.5 815.5,622.5 822.5,621.5 829.5,621.5 836.5,620.5 843.5,619.5 850.5,619.5 857.5,620.5 864.5,621.5 871.5,622.5 878.5,623.5 885.5,625.5 892.5,627.5 899.5,629.5 906.5,632.5 913.5,636.5 920.5,639.5 927.5,641.5 934.5,642.5 941.5,643.5 948.5,641.5 955.5,639.5 962.5,637.5 969.5,635.5 976.5,634.5 983.5,632.5 990.5,630.5 997.5,628.5 1004.5,625.5 1011.5,624.5 1018.5,622.5 1025.5,620.5 1032.5,619.5 1039.5,618.5 1046.5,618.5 1053.5,618.5 1060.5,619.5 1067.5,620.5 1074.5,621.5 1081.5,622.5 1088.5,623.5 1095.5,625.5 1102.5,626.5 1109.5,628.5 1116.5,629.5 1123.5,630.5 1130.5,632.5 1137.5,633.5 1144.5,634.5 1151.5,635.5 1158.5,637.5 1165.5,638.5 1172.5,638.5 1179.5,639.5 1186.5,640.5 1193.5,641.5 1200.5,642.5 1207.5,643.5" fill="none" stroke="#0000ff" stroke-width="1"/>
<polyline points="73.5,661.5 80.5,664.5 87.5,667.5 94.5,668.5 101.5,669.5 108.5,671.5 115.5,672.5 122.5,672.5 129.5,670.5 136.5,667.5 143.5,666.5 150.5,666.5 157.5,667.5 164.5,668.5 171.5,669.5 178.5,669.5 185.5,668.5 192.5,666.5 199.5,664.5 206.5,663.5 213.5,662.5 220.5,660.5 227.5,660.5 234.5,659.5 241.5,659.5 248.5,659.5 255.5,659.5 262.5,659.5 269.5,658.5 276.5,656.5 283.5,655.5 290.5,652.5 297.5,649.5 304.5,649.5 311.5,649.5 318.5,652.5 325.5,654.5 332.5,656.5 339.5,658.5 346.5,659.5 353.5,659.5 360.5,658.5 367.5,657.5 374.5,656.5 381.5,654.5 388.5,653.5 395.5,652.5 402.5,651.5 409.5,650.5 416.5,652.5 423.5,653.5 430.5,654.5 437.5,652.5 444.5,651.5 451.5,651.5 458.5,651.5 465.5,651.5 472.5,651.5 479.5,650.5 486.5,648.5 493.5,645.5 500.5,642.5 507.5,634.5 514.5,628.5 521.5,622.5 528.5,618.5 535.5,615.5 542.5,611.5 549.5,608.5 556.5,608.5 563.5,609.5 570.5,610.5 577.5,610.5 584.5,610.5 591.5,610.5 598.5,613.5 605.5,613.5 612.5,614.5 619.5,614.5 626.5,615.5 633.5,616.5 640.5,618.5 647.5,620.5 654.5,623.5 661.5,627.5 668.5,631.5 675.5,633.5 682.5,634.5 689.5,630.5 696.5,626.5 703.5,622.5 710.5,619.5 717.5,616.5 724.5,614.5 731.5,613.5 738.5,612.5 745.5,611.5 752.5,614.5 759.5,616.5 766.5,617.5 773.5,619.5 780.5,622.5 787.5,624.5 794.5,623.5 801.5,623.5 808.5,622.5 815.5,622.5 822.5,621.5 829.5,619.5 836.5,618.5 843.5,618.5 850.5,619.5 857.5,621.5 864.5,622.5 871.5,625.5 878.5,628.5 885.5,630.5 892.5,634.5 899.5,638.5 906.5,643.5 913.5,649.5 920.5,652.5 927.5,652.5 934.5,648.5 941.5,643.5 948.5,638.5 955.5,633.5 962.5,629.5 969.5,627.5 976.5,626.5 983.5,625.5 990.5,621.5 997.5,619.5 1004.5,616.5 1011.5,615.5 1018.5,615.5 1025.5,615.5 1032.5,615.5 1039.5,617.5 1046.5,618.5 1053.5,619.5 1060.5,621.5 1067.5,622.5 1074.5,624.5 1081.5,625.5 1088.5,627.5 1095.5,629.5 1102.5,630.5 1109.5,632.5 1116.5,633.5 1123.5,634.5 1130.5,636.5 1137.5,637.5 1144.5,638.5 1151.5,639.5 1158.5,640.5 1165.5,641.5 1172.5,642.5 1179.5,643.5 1186.5,644.5 1193.5,645.5 1200.5,646.5 1207.5,647.5" fill="none" stroke="#000000" stroke-width="1"/>
<line x1="1000" y1="202.5" x2="1210" y2="202.5" stroke="#7c7c7c" stroke-dasharray="6 3"/>
</g>
<polyline points="996.5,185.5 1017,190.5" fill="none" stroke="#0000ff"/>
<polyline points="178.5,416.5 198,411.5" fill="none" stroke="#0000ff"/>
<path d="M358.5 157 h4 l-2 2.5z" fill="#000"/>
<rect x="4" y="51" width="1" height="21" fill="#a0a0a0" /><rect x="5" y="51" width="1" height="21" fill="#fff" /><rect x="4" y="72" width="2" height="1" fill="#a0a0a0" />
<g transform="translate(11,54.5)" ><rect x="0.6" y="0.6" width="15" height="12.6" fill="#fff" stroke="#000" stroke-width="1.3" /><rect x="1.2" y="1.2" width="13.8" height="1.6" fill="#0000d0" /><path d="M2.2 5 H14" fill="none" stroke="#000" stroke-width="1" stroke-dasharray="2.2 1"/><path d="M2.2 7 H14" fill="none" stroke="#000" stroke-width="1" stroke-dasharray="2.2 1"/><path d="M2.2 9 H14" fill="none" stroke="#000" stroke-width="1" stroke-dasharray="2.2 1"/><path d="M2.2 11 H14" fill="none" stroke="#000" stroke-width="1" stroke-dasharray="2.2 1"/></g>
<g transform="translate(64,54)" ><rect x="0" y="0" width="7.6" height="7.4" fill="#000" /><rect x="9" y="0" width="7" height="6.9" fill="#000" /><rect x="0" y="9.2" width="6.9" height="6.8" fill="#000" /><rect x="8.4" y="8.4" width="7.6" height="7.6" fill="#000" /><path d="M5 5 L11 5 L11 11 L5 11Z" fill="#000" /><rect x="1.4" y="1.4" width="5.4" height="5.4" fill="none" stroke="#00f0f0" stroke-width="1.1" stroke-dasharray="1.3 .4"/><rect x="2.9" y="2.9" width="3.9" height="3.9" fill="#009090" /><rect x="10.9" y="1.2" width="4" height="4" fill="#00f0f0" /><rect x="1.2" y="10.9" width="3.9" height="3.9" fill="#00f0f0" /><rect x="9.4" y="9.4" width="3.9" height="3.9" fill="#009090" /><path d="M14.3 9.5 V14.3 H9.5" fill="none" stroke="#00f0f0" stroke-width="1.1" stroke-dasharray="1.3 .4"/><path d="M8.2 1.3 V5.8 Q8.2 7.2 9.8 7.2 H14.4 M1.5 8.6 H6.2 Q7.6 8.6 7.6 10 V14.6" fill="none" stroke="#00f0f0" stroke-width="1.2" stroke-dasharray="1.3 .4"/></g>
<g transform="translate(116,54)" ><line x1="2.4" y1="7.9" x2="2.4" y2="15.6" stroke="#ff0000" stroke-width="1"/><rect x="1.2" y="9.4" width="2.4" height="3.5999999999999996" fill="#fff" stroke="#ff0000" stroke-width="1" /><line x1="6.3" y1="4.3" x2="6.3" y2="12.5" stroke="#ff0000" stroke-width="1"/><rect x="5.1" y="5.8" width="2.4" height="4.1000000000000005" fill="#fff" stroke="#ff0000" stroke-width="1" /><line x1="10.7" y1="3.7" x2="10.7" y2="11" stroke="#008000" stroke-width="1"/><rect x="9.5" y="5.8" width="2.4" height="3.1000000000000005" fill="#008000" stroke="#008000" stroke-width="1" /><line x1="14.5" y1="0.1" x2="14.5" y2="8.9" stroke="#ff0000" stroke-width="1"/><rect x="13.3" y="2.2" width="2.4" height="4.1" fill="#fff" stroke="#ff0000" stroke-width="1" /></g>
<g transform="translate(167,55)" ><rect x="0.5" y="0.5" width="12.4" height="12.4" fill="#fff" stroke="#ff0000" stroke-width="1.1" shape-rendering="crispEdges"/><rect x="0.5" y="0.5" width="12.4" height="12.4" fill="none" stroke="#400000" stroke-width="1.1" shape-rendering="crispEdges" stroke-dasharray="1 1" stroke-opacity=".45"/><text x="6.8" y="10" font-size="8.8" fill="#000" font-weight="normal" text-anchor="middle" font-family='Liberation Sans,sans-serif' letter-spacing="-0.2" stroke="#000" stroke-width=".35">PS</text></g>
<g transform="translate(239,55)" ><rect x="0.5" y="0.5" width="12.4" height="12.4" fill="#fff" stroke="#f000f0" stroke-width="1.1" shape-rendering="crispEdges"/><rect x="0.5" y="0.5" width="12.4" height="12.4" fill="none" stroke="#400000" stroke-width="1.1" shape-rendering="crispEdges" stroke-dasharray="1 1" stroke-opacity=".45"/><text x="6.8" y="10" font-size="8.8" fill="#800000" font-weight="normal" text-anchor="middle" font-family='Liberation Sans,sans-serif' letter-spacing="-0.2" stroke="#800000" stroke-width=".35">P9</text></g>
<g transform="translate(318,55)" ><rect x="0.5" y="0.5" width="12.4" height="12.4" fill="#fff" stroke="#ff0000" stroke-width="1.1" shape-rendering="crispEdges"/><text x="6.8" y="10" font-size="8.8" fill="#000" font-weight="normal" text-anchor="middle" font-family='Liberation Sans,sans-serif' letter-spacing="-0.2" stroke="#000" stroke-width=".35">PN</text></g>
<g transform="translate(390,55)" ><rect x="0.5" y="0.5" width="12.4" height="12.4" fill="#fff" stroke="#00c000" stroke-width="1.1" shape-rendering="crispEdges"/><rect x="0.5" y="0.5" width="12.4" height="12.4" fill="none" stroke="#400000" stroke-width="1.1" shape-rendering="crispEdges" stroke-dasharray="1 1" stroke-opacity=".45"/><text x="6.8" y="10" font-size="8.8" fill="#800000" font-weight="normal" text-anchor="middle" font-family='Liberation Sans,sans-serif' letter-spacing="-0.2" stroke="#800000" stroke-width=".35">TS</text></g>
<g transform="translate(462,55)" ><rect x="0.5" y="0.5" width="12.4" height="12.4" fill="#fff" stroke="#00d0e0" stroke-width="1.1" shape-rendering="crispEdges"/><rect x="0.5" y="0.5" width="12.4" height="12.4" fill="none" stroke="#400000" stroke-width="1.1" shape-rendering="crispEdges" stroke-dasharray="1 1" stroke-opacity=".45"/><text x="6.8" y="10" font-size="8.8" fill="#800000" font-weight="normal" text-anchor="middle" font-family='Liberation Sans,sans-serif' letter-spacing="-0.2" stroke="#800000" stroke-width=".35">T9</text></g>
<g transform="translate(541,55)" ><rect x="0.5" y="0.5" width="12.4" height="12.4" fill="#fff" stroke="#00c000" stroke-width="1.1" shape-rendering="crispEdges"/><rect x="0.5" y="0.5" width="12.4" height="12.4" fill="none" stroke="#400000" stroke-width="1.1" shape-rendering="crispEdges" stroke-dasharray="1 1" stroke-opacity=".45"/><text x="6.8" y="10" font-size="8.8" fill="#800000" font-weight="normal" text-anchor="middle" font-family='Liberation Sans,sans-serif' letter-spacing="-0.2" stroke="#800000" stroke-width=".35">TN</text></g>
<g transform="translate(612,54)" ><circle cx="8" cy="8" r="7" fill="#fff" stroke="#800000" stroke-width="1.6"/><circle cx="8" cy="8" r="4" fill="none" stroke="#008000" stroke-width="1.3"/><circle cx="8" cy="8" r="1.6" fill="#ff0000"/><line x1="8" y1="1" x2="8" y2="15" stroke="#c06060" stroke-width="0.6"/><line x1="1" y1="8" x2="15" y2="8" stroke="#c06060" stroke-width="0.6"/></g>
<g transform="translate(677,54)" ><circle cx="8" cy="8" r="7.2" fill="#eef6f6" stroke="#207090" stroke-width="1.2"/><text x="8" y="11.6" font-size="10.5" fill="#10a020" font-weight="normal" text-anchor="middle" font-family='Liberation Sans,sans-serif' textLength="11.5" lengthAdjust="spacingAndGlyphs">Big</text></g>
<g transform="translate(742,54)" ><path d="M4 1.5 L12 1.5 L15.5 8 L12 14.5 L4 14.5 L0.5 8Z" fill="#fff" stroke="#d00000" stroke-width="1.4" /><circle cx="8" cy="8" r="3.8" fill="none" stroke="#0000d0" stroke-width="1.5"/><circle cx="8" cy="8" r="1.5" fill="#008080"/></g>
<text x="815" y="68.6" font-size="18" fill="#78cc78" font-weight="bold" text-anchor="middle" font-family='Liberation Sans,sans-serif' stroke="#78cc78" stroke-width=".5">$</text>
<rect x="4" y="78" width="1" height="20" fill="#a0a0a0" /><rect x="5" y="78" width="1" height="20" fill="#fff" /><rect x="4" y="98" width="2" height="1" fill="#a0a0a0" />
<text x="12.5" y="93.3" font-size="13" fill="#000" font-weight="bold" text-anchor="start" font-family='Liberation Sans,Noto Sans CJK SC,sans-serif' >日</text>
<path d="M29.5 88 h6 l-3 3.2z" fill="#000" />
<rect x="39" y="78" width="22" height="22" fill="#fafafa" /><rect x="39" y="78" width="22" height="1" fill="#a0a0a0" /><rect x="39" y="78" width="1" height="22" fill="#a0a0a0" /><rect x="39" y="99" width="22" height="1" fill="#fff" /><rect x="60" y="78" width="1" height="22" fill="#fff" />
<g transform="translate(43,81)" ><path d="M1.1 3.2 H5.8 L6.5 2.1 H9.8 L10.6 3.2 H14.8 V5.3 L13.5 6 L14.5 8.2 L13.2 9.7 L14.8 11.6 V13.4 L13.5 14.5 H11.3 L10.6 13.4 H6.1 L5.4 14.5 H3 L2.2 13.4 V12.3 L3.5 11.2 L1.1 8.4 L2.4 6.4 L1.1 5.3Z M3 10.6 Q3.6 5.3 8 5.3 Q12.4 5.3 13.2 10.8 M4.8 10.2 Q5 7.3 8 7.2 Q11 7.3 11.2 9.6 M4.6 9.6 L12.8 12.6 M11.4 9.2 L3.4 12.4" fill="none" stroke="#0000ff" stroke-width="1.15" /></g>
<g transform="translate(66,81)" ><path d="M3.3 2.7 H5.4 V1.3 H7.7 V2.7 H9.9 Q11.9 2.7 11.9 4.7 V11.6 Q11.9 13.6 9.9 13.6 H3.3 Q1.3 13.6 1.3 11.6 V4.7 Q1.3 2.7 3.3 2.7Z" fill="#fff" stroke="#0000ff" stroke-width="1.3" /><line x1="4.1" y1="5.6" x2="8.1" y2="5.6" stroke="#0000ff" stroke-width="1.2"/><line x1="4.1" y1="8.4" x2="8.1" y2="8.4" stroke="#0000ff" stroke-width="1.2"/><line x1="4.1" y1="10.6" x2="8.1" y2="10.6" stroke="#0000ff" stroke-width="1.2"/></g>
<g transform="translate(88,81)" ><path d="M1 14.5 V9.6 H3.6 V11.7 H6.2 V5.6 H8.7 V8.9 H11.1 V1.4 H13.5 V7.8" fill="none" stroke="#a000a0" stroke-width="1.15" /><text x="11" y="16" font-size="6.5" fill="#000" font-weight="bold" text-anchor="start" font-family='Liberation Sans,sans-serif' >3</text></g>
<g transform="translate(111,81)" ><path d="M1 14.5 V9.6 H3.6 V11.7 H6.2 V5.6 H8.7 V8.9 H11.1 V1.4 H13.5 V7.8" fill="none" stroke="#800000" stroke-width="1.15" /><text x="11" y="16" font-size="6.5" fill="#000" font-weight="bold" text-anchor="start" font-family='Liberation Sans,sans-serif' >9</text></g>
<g transform="translate(133.5,81)" ><line x1="8" y1="0.5" x2="8" y2="15" stroke="#000" stroke-width="1.2"/><rect x="6" y="3.5" width="4" height="8" fill="#fff" stroke="#000" stroke-width="1.2" /></g>
<path d="M151.5 88 h6 l-3 3.2z" fill="#000" />
<rect x="162" y="78" width="22" height="22" fill="#fafafa" /><rect x="162" y="78" width="22" height="1" fill="#a0a0a0" /><rect x="162" y="78" width="1" height="22" fill="#a0a0a0" /><rect x="162" y="99" width="22" height="1" fill="#fff" /><rect x="183" y="78" width="1" height="22" fill="#fff" />
<rect x="185" y="78" width="22" height="22" fill="#fafafa" /><rect x="185" y="78" width="22" height="1" fill="#a0a0a0" /><rect x="185" y="78" width="1" height="22" fill="#a0a0a0" /><rect x="185" y="99" width="22" height="1" fill="#fff" /><rect x="206" y="78" width="1" height="22" fill="#fff" />
<g transform="translate(165,81)" ><path d="M5.9 1.2 H3.7 V2.7 L1.5 4.1 V5.7 L3.1 6.7 L1.5 9.3 V11.3 L3.5 12.1 V15.8 L7.9 15 L9.1 13.3 L11.1 13.7 L12.7 15.8 L14.8 14.5 V12.1 L12.9 8.1 L14.8 5.7 V2.2 H6.7 L5.9 7.7 L5.1 9.3 L6.7 12.1 L5.9 14.1 M7 7.5 L8.2 8.6 L7.4 10 " fill="none" stroke="#800000" stroke-width="1.25" /><rect x="10" y="5" width="1.8" height="1.8" fill="#800000" /></g>
<g transform="translate(188,81)" ><line x1="2.6" y1="1.4" x2="2.6" y2="16.3" stroke="#800000" stroke-width="1.2"/><line x1="1" y1="15.5" x2="16.8" y2="15.5" stroke="#800000" stroke-width="1"/><path d="M3.2 1.5 L7 3 V4 H10 V5.5 H13 V6.5 H16.5 V8 H3.2Z" fill="#ff00e8" /><path d="M3.2 8.5 H13 V10 H10 V11.5 H7 V12.5 H3.2Z" fill="#008080" /></g>
<rect x="210" y="79" width="1" height="20" fill="#a0a0a0" /><rect x="211" y="79" width="1" height="20" fill="#fff" />
<g transform="translate(217,81)" ><rect x="0.8" y="1" width="2" height="14" fill="#808000" stroke="#000" stroke-width="0.9" /><path d="M15 1.5 L15 14.5 L3.8 8Z" fill="#808000" stroke="#000" stroke-width="0.8" /></g>
<g transform="translate(240,81)" ><rect x="13.2" y="1" width="2" height="14" fill="#808000" stroke="#000" stroke-width="0.9" /><path d="M1 1.5 L1 14.5 L12.2 8Z" fill="#808000" stroke="#000" stroke-width="0.8" /></g>
<g transform="translate(263,81)" ><path d="M14.5 1 L14.5 15 L1 8Z" fill="#b8b8b8" /><path d="M14.5 15 L1 8 L10.5 8.5 L14.5 12.5Z" fill="#000" /><path d="M14.5 1 L14.5 12.5 L12.5 10 L12.5 3Z" fill="#dcdcdc" /></g>
<g transform="translate(286,81)" ><path d="M1.5 1 L1.5 15 L15 8Z" fill="#b8b8b8" /><path d="M1.5 15 L15 8 L5.5 8.5 L1.5 12.5Z" fill="#000" /><path d="M1.5 1 L1.5 12.5 L3.5 10 L3.5 3Z" fill="#707070" /></g>
<g transform="translate(308.5,80.5)" ><path d="M8 0.4 L15.6 8 L8 15.6 L0.4 8Z" fill="#ffee00" stroke="#000" stroke-width="1.25" /><line x1="4.5" y1="8" x2="12.5" y2="8" stroke="#000" stroke-width="1.5"/><path d="M2.8 8 L6.6 4.8 L6.6 11.2Z" fill="#000" /></g>
<g transform="translate(331.5,80.5)" ><path d="M8 0.4 L15.6 8 L8 15.6 L0.4 8Z" fill="#ffee00" stroke="#000" stroke-width="1.25" /><line x1="3.5" y1="8" x2="11.5" y2="8" stroke="#000" stroke-width="1.5"/><path d="M13.2 8 L9.4 4.8 L9.4 11.2Z" fill="#000" /></g>
<g transform="translate(354.5,80.5)" ><path d="M8 0.4 L15.6 8 L8 15.6 L0.4 8Z" fill="#ffee00" stroke="#000" stroke-width="1.25" /><path d="M8 3 V13" fill="none" stroke="#fffbd0" stroke-width="1" stroke-dasharray="1 1"/><line x1="4.5" y1="8" x2="11.5" y2="8" stroke="#000" stroke-width="1.5"/><path d="M2.3 8 L5.6 5.3 L5.6 10.7Z" fill="#000" /><path d="M13.7 8 L10.4 5.3 L10.4 10.7Z" fill="#000" /></g>
<g transform="translate(377.5,80.5)" ><path d="M8 0.4 L15.6 8 L8 15.6 L0.4 8Z" fill="#ffee00" stroke="#000" stroke-width="1.25" /><path d="M8 3 V13" fill="none" stroke="#fffbd0" stroke-width="1" stroke-dasharray="1 1"/><line x1="2.3" y1="8" x2="13.7" y2="8" stroke="#000" stroke-width="1.2"/><path d="M7.6 8 L4.4 5.4 L4.4 10.6Z" fill="#000" /><path d="M8.4 8 L11.6 5.4 L11.6 10.6Z" fill="#000" /></g>
<g transform="translate(400.5,80.5)" ><path d="M8 0.4 L15.6 8 L8 15.6 L0.4 8Z" fill="#ffee00" stroke="#000" stroke-width="1.25" /><line x1="2.3" y1="8" x2="13.7" y2="8" stroke="#000" stroke-width="1"/><line x1="8" y1="2.3" x2="8" y2="13.7" stroke="#000" stroke-width="1"/><path d="M7.2 8 L5 6.2 L5 9.8Z" fill="#000" /><path d="M8.8 8 L11 6.2 L11 9.8Z" fill="#000" /><path d="M8 7.2 L6.2 5 L9.8 5Z" fill="#000" /><path d="M8 8.8 L6.2 11 L9.8 11Z" fill="#000" /></g>
<g transform="translate(423.5,80.5)" ><path d="M8 0.4 L15.6 8 L8 15.6 L0.4 8Z" fill="#ffee00" stroke="#000" stroke-width="1.25" /><line x1="2.5" y1="8" x2="13.5" y2="8" stroke="#000" stroke-width="1"/><line x1="8" y1="3.5" x2="8" y2="12.5" stroke="#000" stroke-width="1.6"/><path d="M8 1.8 L5.6 5 L10.4 5Z" fill="#000" /><path d="M8 14.2 L5.6 11 L10.4 11Z" fill="#000" /><path d="M2 8 L4.3 6.3 L4.3 9.7Z" fill="#000" /><path d="M14 8 L11.7 6.3 L11.7 9.7Z" fill="#000" /></g>
<rect x="446" y="79" width="1" height="20" fill="#a0a0a0" /><rect x="447" y="79" width="1" height="20" fill="#fff" />
<g transform="translate(454,81)" ><path d="M4.4 14.8 L0.2 7.7 L1.6 6.3 L4.9 9.1 V1.7 L5.8 0.3 L7.2 1.7 V6.3 M7.7 6.3 V2.6 L8.6 1.7 L9.8 2.8 V6.8 M10.2 6.8 V4 L11.1 3.4 L12.1 4.5 V7.7 M12.4 7.7 V5.9 L13.1 5.6 L13.6 6.8 L13.3 10.1 L10 14.8" fill="none" stroke="#000" stroke-width="1.05" /></g>
<rect x="473" y="78" width="22" height="22" fill="#fafafa" /><rect x="473" y="78" width="22" height="1" fill="#a0a0a0" /><rect x="473" y="78" width="1" height="22" fill="#a0a0a0" /><rect x="473" y="99" width="22" height="1" fill="#fff" /><rect x="494" y="78" width="1" height="22" fill="#fff" />
<g transform="translate(476,81)" ><line x1="8.5" y1="2" x2="8.5" y2="15.5" stroke="#000" stroke-width="1"/><line x1="2" y1="8.5" x2="15" y2="8.5" stroke="#000" stroke-width="1"/></g>
<g transform="translate(499,81)" ><path d="M0.1 4 L4.3 12 L10.3 4 L15.5 11" fill="none" stroke="#000" stroke-width="1" /><circle cx="4.3" cy="12.2" r="1.9" fill="none" stroke="#ff0000" stroke-width="1.2"/><circle cx="10.3" cy="3.5" r="1.9" fill="none" stroke="#ff0000" stroke-width="1.2"/></g>
<text x="530" y="94.3" font-size="15" fill="#f4f4f4" font-weight="900" text-anchor="middle" font-family='Liberation Sans,Noto Sans CJK SC,sans-serif' stroke="#9000a8" stroke-width=".95">守</text>
<text x="553" y="94.3" font-size="15" fill="#f4f4f4" font-weight="900" text-anchor="middle" font-family='Liberation Sans,Noto Sans CJK SC,sans-serif' stroke="#008888" stroke-width=".95">线</text>
<rect x="567" y="79" width="1" height="20" fill="#a0a0a0" /><rect x="568" y="79" width="1" height="20" fill="#fff" />
<g transform="translate(574,81)" ><rect x="2.5" y="4" width="12.5" height="11.5" fill="#808080" /><rect x="1.5" y="3" width="12.5" height="11.5" fill="#fff" stroke="#000" stroke-width="0.9" /><rect x="2" y="3.5" width="11.5" height="2.3" fill="#00d8e0" /><path d="M4.5 3.2 L3.8 0.8 L5.5 1.8Z M11 3.2 L10.3 0.8 L12 1.8Z" fill="#c0c0c0" stroke="#404040" stroke-width="0.6" /><text x="7.7" y="13.4" font-size="9.5" fill="#ff0000" font-weight="normal" text-anchor="middle" font-family='Liberation Sans,sans-serif' letter-spacing="-0.3" stroke="#ff0000" stroke-width=".35">21</text></g>
<g transform="translate(597,81)" ><rect x="0.8" y="0.8" width="14.4" height="14.4" fill="#00d0e0" stroke="#002030" stroke-width="1" /><rect x="2.6" y="2.6" width="10.8" height="11" fill="#003048" /><rect x="3.6" y="3.4" width="8.8" height="2.6" fill="#b8c8c8" /><rect x="3.8" y="7.3" width="1.9" height="1.3" fill="#d8e8e8" /><rect x="3.8" y="9.5" width="1.9" height="1.3" fill="#d8e8e8" /><rect x="3.8" y="11.7" width="1.9" height="1.3" fill="#d8e8e8" /><rect x="6.8" y="7.3" width="1.9" height="1.3" fill="#d8e8e8" /><rect x="6.8" y="9.5" width="1.9" height="1.3" fill="#d8e8e8" /><rect x="6.8" y="11.7" width="1.9" height="1.3" fill="#d8e8e8" /><rect x="9.8" y="7.3" width="1.9" height="1.3" fill="#d8e8e8" /><rect x="9.8" y="9.5" width="1.9" height="1.3" fill="#d8e8e8" /><rect x="9.8" y="11.7" width="1.9" height="1.3" fill="#d8e8e8" /><path d="M2 2.5 V13.5" fill="none" stroke="#fff" stroke-width="0.7" stroke-dasharray="1 1"/></g>
<g transform="translate(620,81)" ><rect x="2" y="0.8" width="12.5" height="14.4" fill="#fff" stroke="#000" stroke-width="1.2" /><line x1="4.5" y1="3.5" x2="12.5" y2="3.5" stroke="#0000ff" stroke-width="1"/><line x1="4.5" y1="5.5" x2="12.5" y2="5.5" stroke="#0000ff" stroke-width="1"/><line x1="4.5" y1="7.5" x2="12.5" y2="7.5" stroke="#0000ff" stroke-width="1"/><line x1="4.5" y1="9.5" x2="12.5" y2="9.5" stroke="#0000ff" stroke-width="1"/><path d="M9 15 L14.5 10 V15Z" fill="#c0c0c0" stroke="#000" stroke-width="0.8" /><rect x="0.5" y="2" width="2.5" height="1" fill="#000" /><rect x="0.5" y="4.5" width="2.5" height="1" fill="#000" /><rect x="0.5" y="7" width="2.5" height="1" fill="#000" /><rect x="0.5" y="9.5" width="2.5" height="1" fill="#000" /><rect x="0.5" y="12" width="2.5" height="1" fill="#000" /></g>
<g transform="translate(643,81)" ><rect x="0.8" y="0.8" width="14.4" height="14.4" fill="#e80000" stroke="#000" stroke-width="1" /><rect x="4.5" y="1.3" width="10.2" height="7.7" fill="#70e0f0" stroke="#000" stroke-width="0.5" /><path d="M4.7 8.8 L9 5.5 L11.5 7 L14.5 4.5 V8.8Z" fill="#108030" /><rect x="6" y="2.3" width="2" height="1.6" fill="#f0e040" /><rect x="3.5" y="10.5" width="9.5" height="4.5" fill="#181818" /><rect x="9.5" y="11.3" width="2" height="3" fill="#fff" /></g>
<g transform="translate(666,81)" ><rect x="1" y="1.5" width="7" height="6" fill="#fff" stroke="#000" stroke-width="1" /><rect x="1" y="1.5" width="7" height="1.5" fill="#000080" /><rect x="7" y="0.5" width="6.5" height="5.5" fill="#fff" stroke="#000" stroke-width="1" /><rect x="7" y="0.5" width="6.5" height="1.5" fill="#000080" /><circle cx="10.5" cy="10.5" r="5" fill="#1070d0" stroke="#000" stroke-width=".8"/><path d="M7 9 q2 -2 3.5 0 q1 2 3 1 M8 13 q2 -1 3 1" fill="none" stroke="#e8d020" stroke-width="1.4" /><path d="M6.5 11 q2 1 4 -1" fill="none" stroke="#20a040" stroke-width="1.3" /></g>
<g transform="translate(689,81)" ><rect x="6" y="0.8" width="9" height="8" fill="#c8c8c8" stroke="#000" stroke-width="1" /><rect x="7.5" y="2.2" width="6" height="4.5" fill="#0000e0" /><rect x="4.5" y="9.5" width="11" height="3.5" fill="#909090" stroke="#000" stroke-width="0.8" /><rect x="1" y="5" width="4.5" height="9" fill="#d0d0ff" stroke="#000" stroke-width="0.9" /><rect x="1.5" y="8" width="3.5" height="3" fill="#2040ff" /><rect x="7" y="13.5" width="8" height="1.5" fill="#000" /><rect x="2" y="3" width="2" height="2" fill="#e8e8a0" stroke="#000" stroke-width="0.6" /></g>
<rect x="4" y="104" width="1" height="20" fill="#a0a0a0" /><rect x="5" y="104" width="1" height="20" fill="#fff" /><rect x="4" y="124" width="2" height="1" fill="#a0a0a0" />
<g transform="translate(11,107)" ><path d="M8.6 2.1 L11 -0.2 Q14 -0.3 15.6 2.6 L13.8 6.3Z" fill="#ff0000" stroke="#900000" stroke-width="0.5" /><path d="M8.6 2.1 L13.8 6.3 L8.7 12.8 L3.5 8.6Z" fill="#9a9a9a" stroke="#202020" stroke-width="1" /><path d="M3.5 8.6 L8.7 12.8 L3.2 14.6Z" fill="#ff0000" stroke="#700000" stroke-width="0.6" /><line x1="9.3" y1="3.8" x2="5.2" y2="9" stroke="#e6e6e6" stroke-width="1.3"/><line x1="12" y1="6" x2="7.8" y2="11.4" stroke="#505050" stroke-width="1.1"/><path d="M0 12 l2.5 3 l2.5 -1.5" fill="none" stroke="#000" stroke-width="1" /></g>
<g transform="translate(34,107)" ><line x1="0.5" y1="8.5" x2="15.5" y2="8.5" stroke="#000" stroke-width="1"/><line x1="3.5" y1="2" x2="3.5" y2="15" stroke="#000" stroke-width="1"/><line x1="8.5" y1="2" x2="8.5" y2="15" stroke="#000" stroke-width="1"/><line x1="13.5" y1="2" x2="13.5" y2="15" stroke="#000" stroke-width="1"/></g>
<g transform="translate(57,107)" ><line x1="0" y1="3.5" x2="16" y2="3.5" stroke="#000" stroke-width="1"/><line x1="2.5" y1="1" x2="2.5" y2="6" stroke="#000" stroke-width="1"/><line x1="6.5" y1="1" x2="6.5" y2="6" stroke="#000" stroke-width="1"/><line x1="10.5" y1="1" x2="10.5" y2="6" stroke="#000" stroke-width="1"/><line x1="14.5" y1="1" x2="14.5" y2="6" stroke="#000" stroke-width="1"/><text x="8" y="15.8" font-size="10.5" fill="#808000" font-weight="500" text-anchor="middle" font-family='Liberation Sans,Noto Sans CJK SC,sans-serif' >金</text></g>
<g transform="translate(80,107)" ><line x1="0" y1="3.5" x2="16" y2="3.5" stroke="#000" stroke-width="1"/><line x1="2.5" y1="1" x2="2.5" y2="6" stroke="#000" stroke-width="1"/><line x1="6.5" y1="1" x2="6.5" y2="6" stroke="#000" stroke-width="1"/><line x1="10.5" y1="1" x2="10.5" y2="6" stroke="#000" stroke-width="1"/><line x1="14.5" y1="1" x2="14.5" y2="6" stroke="#000" stroke-width="1"/><text x="8" y="15.8" font-size="10.5" fill="#808000" font-weight="500" text-anchor="middle" font-family='Liberation Sans,Noto Sans CJK SC,sans-serif' >金</text></g>
<g transform="translate(103,107)" ><line x1="0" y1="3.5" x2="16" y2="3.5" stroke="#000" stroke-width="1"/><line x1="2.5" y1="1" x2="2.5" y2="6" stroke="#000" stroke-width="1"/><line x1="6.5" y1="1" x2="6.5" y2="6" stroke="#000" stroke-width="1"/><line x1="10.5" y1="1" x2="10.5" y2="6" stroke="#000" stroke-width="1"/><line x1="14.5" y1="1" x2="14.5" y2="6" stroke="#000" stroke-width="1"/><path d="M6.5 15.5 V7.5 H11.5 M6.5 11 H10.5" fill="none" stroke="#000" stroke-width="1.05" /></g>
<g transform="translate(126,107)" ><line x1="0" y1="3.5" x2="16" y2="3.5" stroke="#000" stroke-width="1"/><line x1="2.5" y1="1" x2="2.5" y2="6" stroke="#000" stroke-width="1"/><line x1="6.5" y1="1" x2="6.5" y2="6" stroke="#000" stroke-width="1"/><line x1="10.5" y1="1" x2="10.5" y2="6" stroke="#000" stroke-width="1"/><line x1="14.5" y1="1" x2="14.5" y2="6" stroke="#000" stroke-width="1"/><path d="M3 7.5 H13 Q15 11 12 14 Q8 16.5 5 13.5 Q4 10.5 8 10 Q11 10.5 9.5 12.5" fill="none" stroke="#000" stroke-width="1.1" /></g>
<g transform="translate(149,107)" ><g transform="translate(1,-2)" ><path d="M8.6 2.1 L11 -0.2 Q14 -0.3 15.6 2.6 L13.8 6.3Z" fill="#ff0000" stroke="#900000" stroke-width="0.5" /><path d="M8.6 2.1 L13.8 6.3 L8.7 12.8 L3.5 8.6Z" fill="#9a9a9a" stroke="#202020" stroke-width="1" /><path d="M3.5 8.6 L8.7 12.8 L3.2 14.6Z" fill="#ff0000" stroke="#700000" stroke-width="0.6" /><line x1="9.3" y1="3.8" x2="5.2" y2="9" stroke="#e6e6e6" stroke-width="1.3"/><line x1="12" y1="6" x2="7.8" y2="11.4" stroke="#505050" stroke-width="1.1"/></g><line x1="0" y1="13.5" x2="16" y2="13.5" stroke="#000" stroke-width="1"/><line x1="5.5" y1="11.5" x2="5.5" y2="16" stroke="#000" stroke-width="1"/><line x1="9.5" y1="11.5" x2="9.5" y2="16" stroke="#000" stroke-width="1"/><line x1="13.5" y1="11.5" x2="13.5" y2="16" stroke="#000" stroke-width="1"/></g>
<g transform="translate(172,107)" ><circle cx="8" cy="8.5" r="6.5" fill="#fff" stroke="#000" stroke-width="1"/><line x1="2" y1="8.5" x2="14" y2="8.5" stroke="#000" stroke-width="1"/><line x1="4.5" y1="6" x2="4.5" y2="11" stroke="#000" stroke-width="1"/><line x1="6.5" y1="6" x2="6.5" y2="11" stroke="#000" stroke-width="1"/><line x1="8.5" y1="6" x2="8.5" y2="11" stroke="#000" stroke-width="1"/><line x1="10.5" y1="6" x2="10.5" y2="11" stroke="#000" stroke-width="1"/><line x1="12.5" y1="6" x2="12.5" y2="11" stroke="#000" stroke-width="1"/><path d="M11 4 L15.5 1 M15.5 1 l-3 .3 M15.5 1 l-.5 3" fill="none" stroke="#000" stroke-width="1" /></g>
<g transform="translate(195,107)" ><line x1="0.5" y1="8.5" x2="15.5" y2="8.5" stroke="#000" stroke-width="1"/><line x1="3.5" y1="2" x2="3.5" y2="15" stroke="#000" stroke-width="1"/><line x1="8.5" y1="2" x2="8.5" y2="15" stroke="#000" stroke-width="1"/><line x1="13.5" y1="2" x2="13.5" y2="15" stroke="#000" stroke-width="1"/></g>
<g transform="translate(218,107)" ><line x1="0" y1="3.5" x2="16" y2="3.5" stroke="#000" stroke-width="1"/><line x1="2.5" y1="1" x2="2.5" y2="6" stroke="#000" stroke-width="1"/><line x1="6.5" y1="1" x2="6.5" y2="6" stroke="#000" stroke-width="1"/><line x1="10.5" y1="1" x2="10.5" y2="6" stroke="#000" stroke-width="1"/><line x1="14.5" y1="1" x2="14.5" y2="6" stroke="#000" stroke-width="1"/><text x="3.5" y="16" font-size="11" fill="#000" font-weight="normal" text-anchor="start" font-family='Liberation Sans,sans-serif' >n</text><text x="10.5" y="12.5" font-size="7" fill="#000" font-weight="normal" text-anchor="start" font-family='Liberation Sans,sans-serif' >2</text></g>
<g transform="translate(241,107)" ><path d="M0.5 14 L9.4 1 L13.1 7.3Z" fill="none" stroke="#202020" stroke-width="1" /><line x1="11" y1="0.5" x2="11" y2="15.5" stroke="#505050" stroke-width="0.9"/><line x1="14.5" y1="0.5" x2="14.5" y2="15.5" stroke="#909090" stroke-width="0.9"/></g>
<g transform="translate(264,107)" ><path d="M15.9 6 Q13 0.8 7.9 0.8 Q1.2 1.5 1.2 7.9 Q1.8 13.8 7.1 13.8 Q11.5 13.2 11.2 9.5 Q10.5 6.3 7.3 6.6 Q5.3 7.2 5.5 8.6 Q6 10.2 7.5 10 Q8.8 9.6 8.6 8.4" fill="none" stroke="#000" stroke-width="1.1" /><line x1="7.5" y1="-0.3" x2="7.5" y2="15.6" stroke="#ff0000" stroke-width="1"/><line x1="0" y1="9.5" x2="15.9" y2="9.5" stroke="#ff0000" stroke-width="1"/></g>
<g transform="translate(287,107)" ><circle cx="7.5" cy="7.5" r="6.5" fill="none" stroke="#808080" stroke-width=".8"/><circle cx="7.5" cy="7.5" r="3.8" fill="none" stroke="#808080" stroke-width=".8"/><path d="M0 7.5 H15 M7.5 0 V15" fill="none" stroke="#ff0000" stroke-width="1" stroke-dasharray="1 .8"/><path d="M4.8 4.8 L10.2 10.2 M10.2 4.8 L4.8 10.2" fill="none" stroke="#008080" stroke-width="1.5" /><path d="M2.2 2.2 L12.8 12.8 M12.8 2.2 L2.2 12.8" fill="none" stroke="#008080" stroke-width="1" stroke-dasharray="1 1.6"/><circle cx="7.5" cy="7.5" r="1.4" fill="#f00"/></g>
<g transform="translate(310,107)" ><rect x="1.5" y="1.5" width="12" height="12" fill="none" stroke="#808080" stroke-width="1" /><rect x="3.5" y="3.5" width="8" height="8" fill="none" stroke="#808080" stroke-width="1" /><rect x="5.5" y="5.5" width="4" height="4" fill="none" stroke="#808080" stroke-width="1" /><rect x="6.2" y="6.2" width="2.6" height="2.6" fill="#e02020" /><path d="M0.5 0.5 L14.5 14.5 M14.5 0.5 L0.5 14.5" fill="none" stroke="#ff0000" stroke-width="1.1" stroke-dasharray="1 1.5"/><path d="M0 7.5 H15 M7.5 0 V15" fill="none" stroke="#008080" stroke-width="1" stroke-dasharray="1 1.2"/><rect x="-0.19999999999999996" y="-0.19999999999999996" width="1.4" height="1.4" fill="#ff0000" /><rect x="-0.19999999999999996" y="13.8" width="1.4" height="1.4" fill="#ff0000" /><rect x="13.8" y="-0.19999999999999996" width="1.4" height="1.4" fill="#ff0000" /><rect x="13.8" y="13.8" width="1.4" height="1.4" fill="#ff0000" /></g>
<g transform="translate(333,107)" ><path d="M1.5 1.2 V14.5 M1.5 10.8 L8.5 1.6 M8.5 1.2 V14.5" fill="none" stroke="#000" stroke-width="1" /><line x1="11.5" y1="1.2" x2="11.5" y2="3.8" stroke="#000" stroke-width="1"/><line x1="14.5" y1="1.2" x2="14.5" y2="3.8" stroke="#000" stroke-width="1"/></g>
<g transform="translate(356,107)" ><line x1="0" y1="3.5" x2="16" y2="3.5" stroke="#000" stroke-width="1"/><line x1="2.5" y1="1" x2="2.5" y2="6" stroke="#000" stroke-width="1"/><line x1="6.5" y1="1" x2="6.5" y2="6" stroke="#000" stroke-width="1"/><line x1="10.5" y1="1" x2="10.5" y2="6" stroke="#000" stroke-width="1"/><line x1="14.5" y1="1" x2="14.5" y2="6" stroke="#000" stroke-width="1"/><text x="8.5" y="16.3" font-size="11" fill="#ff0000" font-weight="500" text-anchor="middle" font-family='Liberation Sans,Noto Sans CJK SC,sans-serif' >神</text></g>
<g transform="translate(379,107)" ><line x1="0" y1="3.5" x2="16" y2="3.5" stroke="#000" stroke-width="1"/><line x1="2.5" y1="1" x2="2.5" y2="6" stroke="#000" stroke-width="1"/><line x1="6.5" y1="1" x2="6.5" y2="6" stroke="#000" stroke-width="1"/><line x1="10.5" y1="1" x2="10.5" y2="6" stroke="#000" stroke-width="1"/><line x1="14.5" y1="1" x2="14.5" y2="6" stroke="#000" stroke-width="1"/><text x="8.5" y="16.3" font-size="11" fill="#ff0000" font-weight="500" text-anchor="middle" font-family='Liberation Sans,Noto Sans CJK SC,sans-serif' >赢</text></g>
<g transform="translate(402,107)" ><path d="M1.5 15 V2.5 H14.5 V15" fill="none" stroke="#000" stroke-width="1.2" /><line x1="4.5" y1="2.5" x2="4.5" y2="6" stroke="#000" stroke-width="1"/><line x1="7.5" y1="2.5" x2="7.5" y2="6" stroke="#000" stroke-width="1"/><line x1="10.5" y1="2.5" x2="10.5" y2="6" stroke="#000" stroke-width="1"/><line x1="1.5" y1="9" x2="14.5" y2="9" stroke="#000" stroke-width="1"/><path d="M3 9 h10" fill="none" stroke="#fff" stroke-width="1.2" stroke-dasharray="1 2"/><text x="8" y="16" font-size="5.5" fill="#000" font-weight="bold" text-anchor="middle" font-family='Liberation Sans,sans-serif' >123</text></g>
<g transform="translate(425,107)" ><line x1="1.5" y1="3" x2="1.5" y2="13" stroke="#000" stroke-width="1.2"/><line x1="14.5" y1="3" x2="14.5" y2="13" stroke="#000" stroke-width="1.2"/><line x1="8" y1="1" x2="8" y2="16" stroke="#000" stroke-width="1.2"/><path d="M2 8 H14 M2.5 8 l2.5 -2 M2.5 8 l2.5 2 M13.5 8 l-2.5 -2 M13.5 8 l-2.5 2" fill="none" stroke="#000" stroke-width="1" /></g>
<rect x="446" y="105" width="1" height="20" fill="#a0a0a0" /><rect x="447" y="105" width="1" height="20" fill="#fff" />
<rect x="451" y="104" width="1" height="20" fill="#a0a0a0" /><rect x="452" y="104" width="1" height="20" fill="#fff" /><rect x="451" y="124" width="2" height="1" fill="#a0a0a0" />
<g transform="translate(459,107)" ><rect x="5" y="1.5" width="8.5" height="8.5" fill="#fff" stroke="#202020" stroke-width="1.1" /><path d="M1.5 1.5 V10 M0 1.5 h3 M0 10 h3 M1.5 5.8 h1.5 M5 13.5 H13.5 M5 11.5 v4 M13.5 11.5 v4 M8 12.5 v2 M10.8 12.5 v2" fill="none" stroke="#808080" stroke-width="0.9" /></g>
<g transform="translate(482,107)" ><path d="M0.9 14.5 L3.4 0.2 M0.9 14.5 L8.4 0.2 M0.9 14.5 L15.1 6.9 M0.9 14.5 L15.1 11.9" fill="none" stroke="#ff0000" stroke-width="1.05" stroke-dasharray="3 .8"/><line x1="0.9" y1="14.5" x2="14.3" y2="1" stroke="#000" stroke-width="1.05"/><rect x="0" y="13.5" width="2.4" height="2.4" fill="#c00000" /></g>
<g transform="translate(505,107)" ><rect x="1.5" y="3" width="12" height="12" fill="#fff" stroke="#000" stroke-width="1.2" /><path d="M1.5 15 L7 1 M1.5 15 L15.5 8" fill="none" stroke="#a000a0" stroke-width="1" /><path d="M1.5 15 L10.5 2 M1.5 15 L14.5 5" fill="none" stroke="#ff0000" stroke-width="1.1" /><line x1="1.5" y1="15" x2="15" y2="1.5" stroke="#ff0000" stroke-width="1.1"/></g>
<g transform="translate(528,107)" ><rect x="1.5" y="1.5" width="12" height="12" fill="#fff" stroke="#000" stroke-width="1.2" /><path d="M1.5 1.5 L8 15.5 M1.5 1.5 L15.5 8" fill="none" stroke="#a000a0" stroke-width="1" /><path d="M1.5 1.5 L11 14 M1.5 1.5 L14.5 11 M1.5 1.5 L15 15" fill="none" stroke="#ff0000" stroke-width="1.1" /></g>
<g transform="translate(551,107)" ><path d="M1 15 L15 1.5 M1 15 L15.5 8 M1 15 L15.5 11.5 M1 15 L12 14.5" fill="none" stroke="#000" stroke-width="1" /><path d="M0.5 15.5 l3.5 -1 l-2 -2z" fill="#000" /></g>
<g transform="translate(574,107)" ><path d="M1.5 2 L6.5 14 L11 7 L14.5 11.5" fill="none" stroke="#000" stroke-width="1.1" /><path d="M1 15.5 H15.5" fill="none" stroke="#606060" stroke-width="1" stroke-dasharray="1 1"/></g>
<g transform="translate(597,107)" ><line x1="1.5" y1="1" x2="1.5" y2="15" stroke="#8c8c8c" stroke-width="0.9"/><line x1="4.75" y1="1" x2="4.75" y2="15" stroke="#8c8c8c" stroke-width="0.9"/><line x1="8" y1="1" x2="8" y2="15" stroke="#8c8c8c" stroke-width="0.9"/><line x1="11.25" y1="1" x2="11.25" y2="15" stroke="#8c8c8c" stroke-width="0.9"/><line x1="14.5" y1="1" x2="14.5" y2="15" stroke="#8c8c8c" stroke-width="0.9"/><line x1="1" y1="1.5" x2="15" y2="1.5" stroke="#8c8c8c" stroke-width="0.9"/><line x1="1" y1="4.75" x2="15" y2="4.75" stroke="#8c8c8c" stroke-width="0.9"/><line x1="1" y1="8" x2="15" y2="8" stroke="#8c8c8c" stroke-width="0.9"/><line x1="1" y1="11.25" x2="15" y2="11.25" stroke="#8c8c8c" stroke-width="0.9"/><line x1="1" y1="14.5" x2="15" y2="14.5" stroke="#8c8c8c" stroke-width="0.9"/><rect x="0.85" y="4.1" width="1.3" height="1.3" fill="#f00"/><rect x="0.85" y="7.35" width="1.3" height="1.3" fill="#f00"/><rect x="0.85" y="10.6" width="1.3" height="1.3" fill="#f00"/><rect x="4.1" y="0.85" width="1.3" height="1.3" fill="#f00"/><rect x="4.1" y="4.1" width="1.3" height="1.3" fill="#f00"/><rect x="4.1" y="7.35" width="1.3" height="1.3" fill="#f00"/><rect x="4.1" y="10.6" width="1.3" height="1.3" fill="#f00"/><rect x="4.1" y="13.85" width="1.3" height="1.3" fill="#f00"/><rect x="7.35" y="0.85" width="1.3" height="1.3" fill="#f00"/><rect x="7.35" y="4.1" width="1.3" height="1.3" fill="#f00"/><rect x="7.35" y="7.35" width="1.3" height="1.3" fill="#f00"/><rect x="7.35" y="10.6" width="1.3" height="1.3" fill="#f00"/><rect x="7.35" y="13.85" width="1.3" height="1.3" fill="#f00"/><rect x="10.6" y="0.85" width="1.3" height="1.3" fill="#f00"/><rect x="10.6" y="4.1" width="1.3" height="1.3" fill="#f00"/><rect x="10.6" y="7.35" width="1.3" height="1.3" fill="#f00"/><rect x="10.6" y="10.6" width="1.3" height="1.3" fill="#f00"/><rect x="10.6" y="13.85" width="1.3" height="1.3" fill="#f00"/><rect x="13.85" y="4.1" width="1.3" height="1.3" fill="#f00"/><rect x="13.85" y="7.35" width="1.3" height="1.3" fill="#f00"/><rect x="13.85" y="10.6" width="1.3" height="1.3" fill="#f00"/><circle cx="3.1" cy="3.1" r=".9" fill="#fff" stroke="#909090" stroke-width=".4"/><circle cx="3.1" cy="12.9" r=".9" fill="#fff" stroke="#909090" stroke-width=".4"/><circle cx="12.9" cy="3.1" r=".9" fill="#fff" stroke="#909090" stroke-width=".4"/><circle cx="12.9" cy="12.9" r=".9" fill="#fff" stroke="#909090" stroke-width=".4"/></g>
<g transform="translate(620,107)" ><line x1="1.5" y1="1" x2="1.5" y2="15" stroke="#8c8c8c" stroke-width="0.9"/><line x1="4.75" y1="1" x2="4.75" y2="15" stroke="#8c8c8c" stroke-width="0.9"/><line x1="8" y1="1" x2="8" y2="15" stroke="#8c8c8c" stroke-width="0.9"/><line x1="11.25" y1="1" x2="11.25" y2="15" stroke="#8c8c8c" stroke-width="0.9"/><line x1="14.5" y1="1" x2="14.5" y2="15" stroke="#8c8c8c" stroke-width="0.9"/><line x1="1" y1="1.5" x2="15" y2="1.5" stroke="#8c8c8c" stroke-width="0.9"/><line x1="1" y1="4.75" x2="15" y2="4.75" stroke="#8c8c8c" stroke-width="0.9"/><line x1="1" y1="8" x2="15" y2="8" stroke="#8c8c8c" stroke-width="0.9"/><line x1="1" y1="11.25" x2="15" y2="11.25" stroke="#8c8c8c" stroke-width="0.9"/><line x1="1" y1="14.5" x2="15" y2="14.5" stroke="#8c8c8c" stroke-width="0.9"/><rect x="0.85" y="4.1" width="1.3" height="1.3" fill="#f00"/><rect x="0.85" y="7.35" width="1.3" height="1.3" fill="#f00"/><rect x="0.85" y="10.6" width="1.3" height="1.3" fill="#f00"/><rect x="4.1" y="0.85" width="1.3" height="1.3" fill="#f00"/><rect x="4.1" y="4.1" width="1.3" height="1.3" fill="#f00"/><rect x="4.1" y="7.35" width="1.3" height="1.3" fill="#f00"/><rect x="4.1" y="10.6" width="1.3" height="1.3" fill="#f00"/><rect x="4.1" y="13.85" width="1.3" height="1.3" fill="#f00"/><rect x="7.35" y="0.85" width="1.3" height="1.3" fill="#f00"/><rect x="7.35" y="4.1" width="1.3" height="1.3" fill="#f00"/><rect x="7.35" y="7.35" width="1.3" height="1.3" fill="#f00"/><rect x="7.35" y="10.6" width="1.3" height="1.3" fill="#f00"/><rect x="7.35" y="13.85" width="1.3" height="1.3" fill="#f00"/><rect x="10.6" y="0.85" width="1.3" height="1.3" fill="#f00"/><rect x="10.6" y="4.1" width="1.3" height="1.3" fill="#f00"/><rect x="10.6" y="7.35" width="1.3" height="1.3" fill="#f00"/><rect x="10.6" y="10.6" width="1.3" height="1.3" fill="#f00"/><rect x="10.6" y="13.85" width="1.3" height="1.3" fill="#f00"/><rect x="13.85" y="4.1" width="1.3" height="1.3" fill="#f00"/><rect x="13.85" y="7.35" width="1.3" height="1.3" fill="#f00"/><rect x="13.85" y="10.6" width="1.3" height="1.3" fill="#f00"/><circle cx="3.1" cy="3.1" r=".9" fill="#fff" stroke="#909090" stroke-width=".4"/><circle cx="3.1" cy="12.9" r=".9" fill="#fff" stroke="#909090" stroke-width=".4"/><circle cx="12.9" cy="3.1" r=".9" fill="#fff" stroke="#909090" stroke-width=".4"/><circle cx="12.9" cy="12.9" r=".9" fill="#fff" stroke="#909090" stroke-width=".4"/><path d="M1.5 0.5 V15 H15.5 M1.5 0.5 l-1.3 2.5 M1.5 0.5 l1.3 2.5 M15.5 15 l-2.5 -1.3 M15.5 15 l-2.5 1.3" fill="none" stroke="#000" stroke-width="1.1" /></g>
<g transform="translate(643,107)" ><path d="M1.5 8 L15.5 1 M1.5 11.5 L15.5 4.5 M1.5 14.5 L15.5 7.5" fill="none" stroke="#101010" stroke-width="1" /><line x1="1.5" y1="2" x2="1.5" y2="15.5" stroke="#808080" stroke-width="1"/><line x1="12.5" y1="0.5" x2="12.5" y2="14.5" stroke="#808080" stroke-width="1"/></g>
<rect x="664" y="105" width="1" height="20" fill="#a0a0a0" /><rect x="665" y="105" width="1" height="20" fill="#fff" />
<rect x="669" y="104" width="1" height="20" fill="#a0a0a0" /><rect x="670" y="104" width="1" height="20" fill="#fff" /><rect x="669" y="124" width="2" height="1" fill="#a0a0a0" />
<g transform="translate(675,107)" ><line x1="1.5" y1="1" x2="1.5" y2="15.5" stroke="#000" stroke-width="1.3"/><line x1="2" y1="1.5" x2="9.5" y2="1.5" stroke="#000" stroke-width="1.1"/><line x1="2" y1="4.5" x2="9.5" y2="4.5" stroke="#000" stroke-width="1.1"/><line x1="2" y1="7.5" x2="9.5" y2="7.5" stroke="#000" stroke-width="1.1"/><line x1="2" y1="10.5" x2="9.5" y2="10.5" stroke="#000" stroke-width="1.1"/><line x1="2" y1="13.5" x2="9.5" y2="13.5" stroke="#000" stroke-width="1.1"/><path d="M10.5 4.5 h4 M10.5 7.5 h4 M10.5 10.5 h4" fill="none" stroke="#000" stroke-width="1" stroke-dasharray="1 1"/><path d="M10 1.5 H14.5 M10 13.5 H14.5 V15.5" fill="none" stroke="#000" stroke-width="1" /></g>
<g transform="translate(698,107)" ><line x1="0" y1="1.5" x2="16" y2="1.5" stroke="#ff0000" stroke-width="1.1"/><line x1="0" y1="15.5" x2="6" y2="15.5" stroke="#ff0000" stroke-width="1.1"/><path d="M3 15 L10 2 L15.5 5" fill="none" stroke="#000" stroke-width="1" /><text x="11" y="15.8" font-size="10.5" fill="#ff0000" font-weight="normal" text-anchor="middle" font-family='Liberation Sans,sans-serif' stroke="#ff0000" stroke-width="0.35">%</text></g>
<g transform="translate(721,107)" ><text x="8" y="14" font-size="15" fill="#000" font-weight="normal" text-anchor="middle" font-family='Liberation Sans,sans-serif' stroke="#000" stroke-width="0">%</text></g>
<g transform="translate(744,107)" ><line x1="0" y1="2.5" x2="16" y2="2.5" stroke="#000" stroke-width="1"/><line x1="8" y1="6.5" x2="16" y2="6.5" stroke="#000" stroke-width="1"/><line x1="8" y1="10.5" x2="16" y2="10.5" stroke="#000" stroke-width="1"/><line x1="0" y1="15.5" x2="16" y2="15.5" stroke="#000" stroke-width="1"/><text x="4.5" y="14" font-size="10.5" fill="#ff0000" font-weight="normal" text-anchor="middle" font-family='Liberation Sans,sans-serif' stroke="#ff0000" stroke-width="0.35">%</text></g>
<g transform="translate(767,107)" ><circle cx="8" cy="8.5" r="7" fill="#f4f4e0" stroke="#909070" stroke-width="1"/><text x="8" y="12.3" font-size="9.5" fill="#808000" font-weight="500" text-anchor="middle" font-family='Liberation Sans,Noto Sans CJK SC,sans-serif' >金</text></g>
<g transform="translate(790,107)" ><line x1="0" y1="2.5" x2="16" y2="2.5" stroke="#000" stroke-width="1"/><line x1="10" y1="6.5" x2="16" y2="6.5" stroke="#000" stroke-width="1"/><line x1="10" y1="10.5" x2="16" y2="10.5" stroke="#000" stroke-width="1"/><line x1="0" y1="15.5" x2="16" y2="15.5" stroke="#000" stroke-width="1"/><text x="5.5" y="14.8" font-size="10.5" fill="#808000" font-weight="500" text-anchor="middle" font-family='Liberation Sans,Noto Sans CJK SC,sans-serif' >金</text></g>
<g transform="translate(813,107)" ><line x1="2.5" y1="1" x2="2.5" y2="16" stroke="#000" stroke-width="1.3"/><line x1="0.5" y1="4.5" x2="5" y2="4.5" stroke="#000" stroke-width="1"/><line x1="0.5" y1="11.5" x2="5" y2="11.5" stroke="#000" stroke-width="1"/><g transform="translate(3,0)" ><path d="M8.6 2.1 L11 -0.2 Q14 -0.3 15.6 2.6 L13.8 6.3Z" fill="#ff0000" stroke="#900000" stroke-width="0.5" /><path d="M8.6 2.1 L13.8 6.3 L8.7 12.8 L3.5 8.6Z" fill="#9a9a9a" stroke="#202020" stroke-width="1" /><path d="M3.5 8.6 L8.7 12.8 L3.2 14.6Z" fill="#ff0000" stroke="#700000" stroke-width="0.6" /><line x1="9.3" y1="3.8" x2="5.2" y2="9" stroke="#e6e6e6" stroke-width="1.3"/><line x1="12" y1="6" x2="7.8" y2="11.4" stroke="#505050" stroke-width="1.1"/></g></g>
<g transform="translate(836,107)" ><line x1="0" y1="2.5" x2="16" y2="2.5" stroke="#ff0000" stroke-width="1.1"/><line x1="0" y1="14.5" x2="16" y2="14.5" stroke="#ff0000" stroke-width="1.1"/><path d="M1 12 Q4 0 7 8.5 Q10 17 13 5 L14.5 3" fill="none" stroke="#707070" stroke-width="1" /><line x1="0" y1="8.5" x2="16" y2="8.5" stroke="#808080" stroke-width="0.7"/></g>
<g transform="translate(859,107)" ><line x1="0" y1="1.5" x2="16" y2="1.5" stroke="#ff0000" stroke-width="1.1"/><line x1="0" y1="15.5" x2="16" y2="15.5" stroke="#ff0000" stroke-width="1.1"/><text x="8" y="13.2" font-size="10.5" fill="#808000" font-weight="500" text-anchor="middle" font-family='Liberation Sans,Noto Sans CJK SC,sans-serif' >金</text></g>
<g transform="translate(882,107)" ><line x1="0.1" y1="15.6" x2="15.6" y2="0.1" stroke="#000" stroke-width="1"/><line x1="7.699999999999999" y1="7.5" x2="15.5" y2="7.5" stroke="#000" stroke-width="1.1"/><line x1="5.699999999999999" y1="9.5" x2="15.5" y2="9.5" stroke="#000" stroke-width="1.1"/><line x1="3.1999999999999993" y1="12" x2="15.5" y2="12" stroke="#000" stroke-width="1.1"/><line x1="0.6999999999999993" y1="14.5" x2="15.5" y2="14.5" stroke="#000" stroke-width="1.1"/><text x="-0.3" y="9.6" font-size="11.5" fill="#ff0000" font-weight="500" text-anchor="start" font-family='Liberation Sans,Noto Sans CJK SC,sans-serif' >J</text></g>
<g transform="translate(905,107)" ><line x1="0.1" y1="15.6" x2="15.6" y2="0.1" stroke="#000" stroke-width="1"/><line x1="7.699999999999999" y1="7.5" x2="15.5" y2="7.5" stroke="#000" stroke-width="1.1"/><line x1="5.699999999999999" y1="9.5" x2="15.5" y2="9.5" stroke="#000" stroke-width="1.1"/><line x1="3.1999999999999993" y1="12" x2="15.5" y2="12" stroke="#000" stroke-width="1.1"/><line x1="0.6999999999999993" y1="14.5" x2="15.5" y2="14.5" stroke="#000" stroke-width="1.1"/><text x="-0.3" y="9.6" font-size="12.5" fill="#ff0000" font-weight="bold" text-anchor="start" font-family='Liberation Sans,Noto Sans CJK SC,sans-serif' >F</text></g>
<g transform="translate(928,107)" ><line x1="0.1" y1="15.6" x2="15.6" y2="0.1" stroke="#000" stroke-width="1"/><line x1="7.699999999999999" y1="7.5" x2="15.5" y2="7.5" stroke="#000" stroke-width="1.1"/><line x1="5.699999999999999" y1="9.5" x2="15.5" y2="9.5" stroke="#000" stroke-width="1.1"/><line x1="3.1999999999999993" y1="12" x2="15.5" y2="12" stroke="#000" stroke-width="1.1"/><line x1="0.6999999999999993" y1="14.5" x2="15.5" y2="14.5" stroke="#000" stroke-width="1.1"/><text x="-0.3" y="9.6" font-size="10" fill="#808000" font-weight="500" text-anchor="start" font-family='Liberation Sans,Noto Sans CJK SC,sans-serif' >金</text></g>
<g transform="translate(951,107)" ><line x1="0.1" y1="15.6" x2="15.6" y2="0.1" stroke="#000" stroke-width="1"/><line x1="7.699999999999999" y1="7.5" x2="15.5" y2="7.5" stroke="#000" stroke-width="1.1"/><line x1="5.699999999999999" y1="9.5" x2="15.5" y2="9.5" stroke="#000" stroke-width="1.1"/><line x1="3.1999999999999993" y1="12" x2="15.5" y2="12" stroke="#000" stroke-width="1.1"/><line x1="0.6999999999999993" y1="14.5" x2="15.5" y2="14.5" stroke="#000" stroke-width="1.1"/><text x="-0.3" y="9.6" font-size="10.5" fill="#ff0000" font-weight="500" text-anchor="start" font-family='Liberation Sans,Noto Sans CJK SC,sans-serif' >神</text></g>
<g transform="translate(974,107)" ><line x1="0.1" y1="15.6" x2="15.6" y2="0.1" stroke="#000" stroke-width="1"/><line x1="7.699999999999999" y1="7.5" x2="15.5" y2="7.5" stroke="#000" stroke-width="1.1"/><line x1="5.699999999999999" y1="9.5" x2="15.5" y2="9.5" stroke="#000" stroke-width="1.1"/><line x1="3.1999999999999993" y1="12" x2="15.5" y2="12" stroke="#000" stroke-width="1.1"/><line x1="0.6999999999999993" y1="14.5" x2="15.5" y2="14.5" stroke="#000" stroke-width="1.1"/><text x="-0.3" y="9.6" font-size="10.5" fill="#ff0000" font-weight="500" text-anchor="start" font-family='Liberation Sans,Noto Sans CJK SC,sans-serif' >赢</text></g>
<g transform="translate(997,107)" ><line x1="0.1" y1="15.6" x2="15.6" y2="0.1" stroke="#000" stroke-width="1"/><line x1="7.699999999999999" y1="7.5" x2="15.5" y2="7.5" stroke="#000" stroke-width="1.1"/><line x1="5.699999999999999" y1="9.5" x2="15.5" y2="9.5" stroke="#000" stroke-width="1.1"/><line x1="3.1999999999999993" y1="12" x2="15.5" y2="12" stroke="#000" stroke-width="1.1"/><line x1="0.6999999999999993" y1="14.5" x2="15.5" y2="14.5" stroke="#000" stroke-width="1.1"/><text x="-0.3" y="9.6" font-size="10.5" fill="#ff0000" font-weight="500" text-anchor="start" font-family='Liberation Sans,Noto Sans CJK SC,sans-serif' >四</text></g>
</svg>
</div></body></html>
